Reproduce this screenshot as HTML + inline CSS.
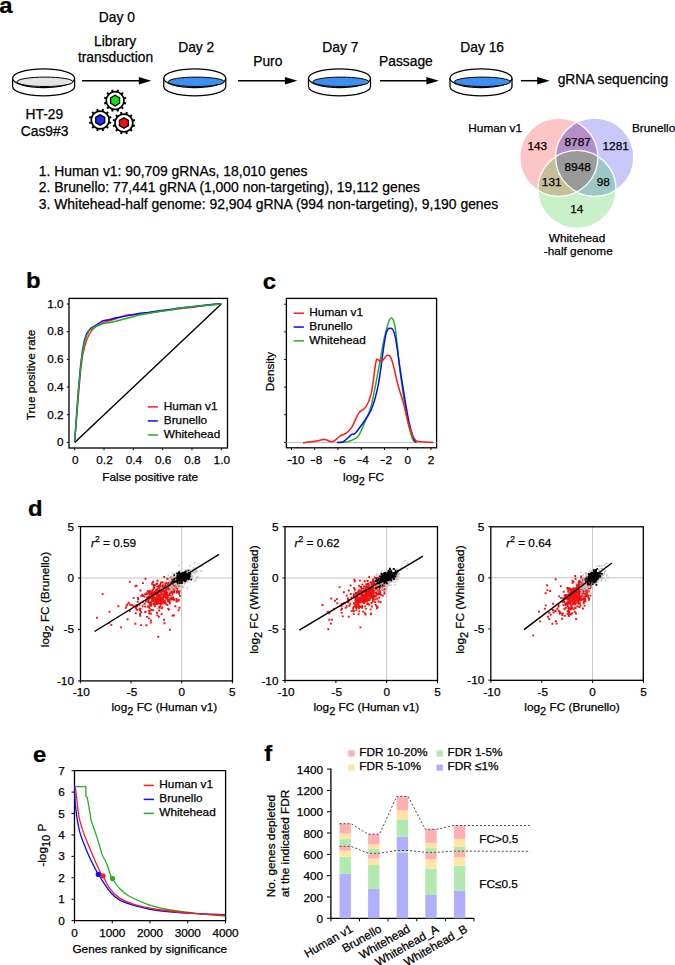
<!DOCTYPE html>
<html><head><meta charset="utf-8"><style>
html,body{margin:0;padding:0;background:#fff;width:675px;height:965px;overflow:hidden}
svg{display:block}
text{font-family:"Liberation Sans",sans-serif;stroke:#000;stroke-width:0.25px}
</style></head><body>
<svg width="675" height="965" viewBox="0 0 675 965">
<text x="0" y="0" font-size="21.3" font-weight="bold" transform="translate(-0.8 12.6) scale(1.12 1)">a</text>
<path d="M12.600000000000001,78.3 L12.600000000000001,86.4 A31,9.4 0 0 0 74.6,86.4 L74.6,78.3" fill="#fff" stroke="#000" stroke-width="1.25"/>
<ellipse cx="43.6" cy="78.3" rx="31" ry="9.4" fill="#fff" stroke="#000" stroke-width="1.25"/>
<ellipse cx="45.0" cy="81.8" rx="28.0" ry="4.7" fill="#e4e4e4" stroke="#000" stroke-width="1.0"/>
<path d="M163.8,78.3 L163.8,86.4 A31,9.4 0 0 0 225.8,86.4 L225.8,78.3" fill="#fff" stroke="#000" stroke-width="1.25"/>
<ellipse cx="194.8" cy="78.3" rx="31" ry="9.4" fill="#fff" stroke="#000" stroke-width="1.25"/>
<ellipse cx="196.20000000000002" cy="81.8" rx="28.0" ry="4.7" fill="#3d8ff2" stroke="#000" stroke-width="1.0"/>
<path d="M308.5,78.3 L308.5,86.4 A31,9.4 0 0 0 370.5,86.4 L370.5,78.3" fill="#fff" stroke="#000" stroke-width="1.25"/>
<ellipse cx="339.5" cy="78.3" rx="31" ry="9.4" fill="#fff" stroke="#000" stroke-width="1.25"/>
<ellipse cx="340.9" cy="81.8" rx="28.0" ry="4.7" fill="#3d8ff2" stroke="#000" stroke-width="1.0"/>
<path d="M450.0,78.3 L450.0,86.4 A31,9.4 0 0 0 512.0,86.4 L512.0,78.3" fill="#fff" stroke="#000" stroke-width="1.25"/>
<ellipse cx="481.0" cy="78.3" rx="31" ry="9.4" fill="#fff" stroke="#000" stroke-width="1.25"/>
<ellipse cx="482.4" cy="81.8" rx="28.0" ry="4.7" fill="#3d8ff2" stroke="#000" stroke-width="1.0"/>
<line x1="82.1" y1="80.7" x2="141.3" y2="80.7" stroke="#000" stroke-width="1.5"/>
<path d="M138.8,77.0 L151.3,80.7 L138.8,84.4 Z" fill="#000"/>
<line x1="238.1" y1="80.7" x2="287.4" y2="80.7" stroke="#000" stroke-width="1.5"/>
<path d="M284.9,77.0 L297.4,80.7 L284.9,84.4 Z" fill="#000"/>
<line x1="380" y1="80.7" x2="428.9" y2="80.7" stroke="#000" stroke-width="1.5"/>
<path d="M426.4,77.0 L438.9,80.7 L426.4,84.4 Z" fill="#000"/>
<line x1="520.9" y1="80.7" x2="539.7" y2="80.7" stroke="#000" stroke-width="1.5"/>
<path d="M537.2,77.0 L549.7,80.7 L537.2,84.4 Z" fill="#000"/>
<text x="116.80" y="21.90" font-size="13.8" text-anchor="middle" fill="#000" >Day 0</text>
<text x="115.20" y="45.60" font-size="13.8" text-anchor="middle" fill="#000" >Library</text>
<text x="115.50" y="61.50" font-size="13.8" text-anchor="middle" fill="#000" >transduction</text>
<text x="196.20" y="52.20" font-size="13.8" text-anchor="middle" fill="#000" >Day 2</text>
<text x="267.80" y="65.50" font-size="13.8" text-anchor="middle" fill="#000" >Puro</text>
<text x="340.30" y="52.20" font-size="13.8" text-anchor="middle" fill="#000" >Day 7</text>
<text x="405.90" y="66.00" font-size="13.8" text-anchor="middle" fill="#000" >Passage</text>
<text x="482.20" y="52.20" font-size="13.8" text-anchor="middle" fill="#000" >Day 16</text>
<text x="612.90" y="84.00" font-size="13.8" text-anchor="middle" fill="#000" >gRNA sequencing</text>
<text x="44.30" y="119.30" font-size="13.8" text-anchor="middle" fill="#000" >HT-29</text>
<text x="44.60" y="135.90" font-size="13.8" text-anchor="middle" fill="#000" >Cas9#3</text>
<text x="38.80" y="175.70" font-size="13.9" text-anchor="start" fill="#000" >1. Human v1: 90,709 gRNAs, 18,010 genes</text>
<text x="38.80" y="192.30" font-size="13.9" text-anchor="start" fill="#000" >2. Brunello: 77,441 gRNA (1,000 non-targeting), 19,112 genes</text>
<text x="38.80" y="208.60" font-size="13.9" text-anchor="start" fill="#000" >3. Whitehead-half genome: 92,904 gRNA (994 non-targeting), 9,190 genes</text>
<rect x="114.10" y="89.30" width="2.0" height="2.8" fill="#000" transform="rotate(15 115.1 100.6)"/>
<rect x="114.10" y="89.30" width="2.0" height="2.8" fill="#000" transform="rotate(45 115.1 100.6)"/>
<rect x="114.10" y="89.30" width="2.0" height="2.8" fill="#000" transform="rotate(75 115.1 100.6)"/>
<rect x="114.10" y="89.30" width="2.0" height="2.8" fill="#000" transform="rotate(105 115.1 100.6)"/>
<rect x="114.10" y="89.30" width="2.0" height="2.8" fill="#000" transform="rotate(135 115.1 100.6)"/>
<rect x="114.10" y="89.30" width="2.0" height="2.8" fill="#000" transform="rotate(165 115.1 100.6)"/>
<rect x="114.10" y="89.30" width="2.0" height="2.8" fill="#000" transform="rotate(195 115.1 100.6)"/>
<rect x="114.10" y="89.30" width="2.0" height="2.8" fill="#000" transform="rotate(225 115.1 100.6)"/>
<rect x="114.10" y="89.30" width="2.0" height="2.8" fill="#000" transform="rotate(255 115.1 100.6)"/>
<rect x="114.10" y="89.30" width="2.0" height="2.8" fill="#000" transform="rotate(285 115.1 100.6)"/>
<rect x="114.10" y="89.30" width="2.0" height="2.8" fill="#000" transform="rotate(315 115.1 100.6)"/>
<rect x="114.10" y="89.30" width="2.0" height="2.8" fill="#000" transform="rotate(345 115.1 100.6)"/>
<circle cx="115.1" cy="100.6" r="8.9" fill="#fff" stroke="#000" stroke-width="1.7"/>
<polygon points="115.10,105.90 110.60,103.25 110.60,97.95 115.10,95.30 119.60,97.95 119.60,103.25" fill="#10e010" stroke="#000" stroke-width="1.3"/>
<rect x="99.20" y="108.70" width="2.0" height="2.8" fill="#000" transform="rotate(15 100.2 120.0)"/>
<rect x="99.20" y="108.70" width="2.0" height="2.8" fill="#000" transform="rotate(45 100.2 120.0)"/>
<rect x="99.20" y="108.70" width="2.0" height="2.8" fill="#000" transform="rotate(75 100.2 120.0)"/>
<rect x="99.20" y="108.70" width="2.0" height="2.8" fill="#000" transform="rotate(105 100.2 120.0)"/>
<rect x="99.20" y="108.70" width="2.0" height="2.8" fill="#000" transform="rotate(135 100.2 120.0)"/>
<rect x="99.20" y="108.70" width="2.0" height="2.8" fill="#000" transform="rotate(165 100.2 120.0)"/>
<rect x="99.20" y="108.70" width="2.0" height="2.8" fill="#000" transform="rotate(195 100.2 120.0)"/>
<rect x="99.20" y="108.70" width="2.0" height="2.8" fill="#000" transform="rotate(225 100.2 120.0)"/>
<rect x="99.20" y="108.70" width="2.0" height="2.8" fill="#000" transform="rotate(255 100.2 120.0)"/>
<rect x="99.20" y="108.70" width="2.0" height="2.8" fill="#000" transform="rotate(285 100.2 120.0)"/>
<rect x="99.20" y="108.70" width="2.0" height="2.8" fill="#000" transform="rotate(315 100.2 120.0)"/>
<rect x="99.20" y="108.70" width="2.0" height="2.8" fill="#000" transform="rotate(345 100.2 120.0)"/>
<circle cx="100.2" cy="120.0" r="8.9" fill="#fff" stroke="#000" stroke-width="1.7"/>
<polygon points="100.20,125.30 95.70,122.65 95.70,117.35 100.20,114.70 104.70,117.35 104.70,122.65" fill="#2030f0" stroke="#000" stroke-width="1.3"/>
<rect x="122.90" y="111.70" width="2.0" height="2.8" fill="#000" transform="rotate(15 123.9 123.0)"/>
<rect x="122.90" y="111.70" width="2.0" height="2.8" fill="#000" transform="rotate(45 123.9 123.0)"/>
<rect x="122.90" y="111.70" width="2.0" height="2.8" fill="#000" transform="rotate(75 123.9 123.0)"/>
<rect x="122.90" y="111.70" width="2.0" height="2.8" fill="#000" transform="rotate(105 123.9 123.0)"/>
<rect x="122.90" y="111.70" width="2.0" height="2.8" fill="#000" transform="rotate(135 123.9 123.0)"/>
<rect x="122.90" y="111.70" width="2.0" height="2.8" fill="#000" transform="rotate(165 123.9 123.0)"/>
<rect x="122.90" y="111.70" width="2.0" height="2.8" fill="#000" transform="rotate(195 123.9 123.0)"/>
<rect x="122.90" y="111.70" width="2.0" height="2.8" fill="#000" transform="rotate(225 123.9 123.0)"/>
<rect x="122.90" y="111.70" width="2.0" height="2.8" fill="#000" transform="rotate(255 123.9 123.0)"/>
<rect x="122.90" y="111.70" width="2.0" height="2.8" fill="#000" transform="rotate(285 123.9 123.0)"/>
<rect x="122.90" y="111.70" width="2.0" height="2.8" fill="#000" transform="rotate(315 123.9 123.0)"/>
<rect x="122.90" y="111.70" width="2.0" height="2.8" fill="#000" transform="rotate(345 123.9 123.0)"/>
<circle cx="123.9" cy="123.0" r="8.9" fill="#fff" stroke="#000" stroke-width="1.7"/>
<polygon points="123.90,128.30 119.40,125.65 119.40,120.35 123.90,117.70 128.40,120.35 128.40,125.65" fill="#f01010" stroke="#000" stroke-width="1.3"/>
<defs>
<clipPath id="cA"><circle cx="558.8" cy="157.2" r="39.1"/></clipPath>
<clipPath id="cB"><circle cx="594.7" cy="157.2" r="39.1"/></clipPath>
</defs>
<circle cx="558.8" cy="157.2" r="39.1" fill="#fcc6c6"/>
<circle cx="594.7" cy="157.2" r="39.1" fill="#c9c9f9"/>
<circle cx="577" cy="189.4" r="39.1" fill="#c9f1c9"/>
<circle cx="594.7" cy="157.2" r="39.1" fill="#b48dca" clip-path="url(#cA)"/>
<circle cx="577" cy="189.4" r="39.1" fill="#c6bf98" clip-path="url(#cA)"/>
<circle cx="577" cy="189.4" r="39.1" fill="#9cc7c5" clip-path="url(#cB)"/>
<g clip-path="url(#cA)">
<circle cx="577" cy="189.4" r="39.1" fill="#9a9a9a" clip-path="url(#cB)"/>
</g>
<circle cx="558.8" cy="157.2" r="39.1" fill="none" stroke="#fff" stroke-width="1.3"/>
<circle cx="594.7" cy="157.2" r="39.1" fill="none" stroke="#fff" stroke-width="1.3"/>
<circle cx="577" cy="189.4" r="39.1" fill="none" stroke="#fff" stroke-width="1.3"/>
<text x="495.20" y="131.60" font-size="11.8" text-anchor="middle" fill="#000" >Human v1</text>
<text x="632.00" y="131.60" font-size="11.8" text-anchor="start" fill="#000" >Brunello</text>
<text x="577.00" y="241.70" font-size="11.8" text-anchor="middle" fill="#000" >Whitehead</text>
<text x="578.30" y="255.00" font-size="11.8" text-anchor="middle" fill="#000" >-half genome</text>
<text x="537.30" y="150.00" font-size="11.8" text-anchor="middle" fill="#000" >143</text>
<text x="577.70" y="145.70" font-size="11.8" text-anchor="middle" fill="#000" >8787</text>
<text x="615.70" y="150.00" font-size="11.8" text-anchor="middle" fill="#000" >1281</text>
<text x="577.70" y="170.70" font-size="11.8" text-anchor="middle" fill="#000" >8948</text>
<text x="551.70" y="186.00" font-size="11.8" text-anchor="middle" fill="#000" >131</text>
<text x="603.30" y="186.00" font-size="11.8" text-anchor="middle" fill="#000" >98</text>
<text x="576.70" y="212.70" font-size="11.8" text-anchor="middle" fill="#000" >14</text>
<text x="0" y="0" font-size="21.3" font-weight="bold" transform="translate(26.0 287.9) scale(1.12 1)">b</text>
<rect x="69.0" y="298.4" width="158.5" height="149.60000000000002" fill="none" stroke="#000" stroke-width="1.3"/>
<line x1="66.8" y1="442.40" x2="69.0" y2="442.40" stroke="#000" stroke-width="1"/>
<text x="63.60" y="446.20" font-size="11.8" text-anchor="end" fill="#000" >0</text>
<line x1="74.70" y1="448.0" x2="74.70" y2="450.2" stroke="#000" stroke-width="1"/>
<text x="75.20" y="463.60" font-size="11.8" text-anchor="middle" fill="#000" >0</text>
<line x1="66.8" y1="414.72" x2="69.0" y2="414.72" stroke="#000" stroke-width="1"/>
<text x="63.60" y="418.52" font-size="11.8" text-anchor="end" fill="#000" >0.2</text>
<line x1="104.02" y1="448.0" x2="104.02" y2="450.2" stroke="#000" stroke-width="1"/>
<text x="104.52" y="463.60" font-size="11.8" text-anchor="middle" fill="#000" >0.2</text>
<line x1="66.8" y1="387.04" x2="69.0" y2="387.04" stroke="#000" stroke-width="1"/>
<text x="63.60" y="390.84" font-size="11.8" text-anchor="end" fill="#000" >0.4</text>
<line x1="133.34" y1="448.0" x2="133.34" y2="450.2" stroke="#000" stroke-width="1"/>
<text x="133.84" y="463.60" font-size="11.8" text-anchor="middle" fill="#000" >0.4</text>
<line x1="66.8" y1="359.36" x2="69.0" y2="359.36" stroke="#000" stroke-width="1"/>
<text x="63.60" y="363.16" font-size="11.8" text-anchor="end" fill="#000" >0.6</text>
<line x1="162.66" y1="448.0" x2="162.66" y2="450.2" stroke="#000" stroke-width="1"/>
<text x="163.16" y="463.60" font-size="11.8" text-anchor="middle" fill="#000" >0.6</text>
<line x1="66.8" y1="331.68" x2="69.0" y2="331.68" stroke="#000" stroke-width="1"/>
<text x="63.60" y="335.48" font-size="11.8" text-anchor="end" fill="#000" >0.8</text>
<line x1="191.98" y1="448.0" x2="191.98" y2="450.2" stroke="#000" stroke-width="1"/>
<text x="192.48" y="463.60" font-size="11.8" text-anchor="middle" fill="#000" >0.8</text>
<line x1="66.8" y1="304.00" x2="69.0" y2="304.00" stroke="#000" stroke-width="1"/>
<text x="63.60" y="307.80" font-size="11.8" text-anchor="end" fill="#000" >1.0</text>
<line x1="221.30" y1="448.0" x2="221.30" y2="450.2" stroke="#000" stroke-width="1"/>
<text x="221.80" y="463.60" font-size="11.8" text-anchor="middle" fill="#000" >1.0</text>
<text x="150.20" y="481.00" font-size="11.8" text-anchor="middle" fill="#000" >False positive rate</text>
<text x="0" y="0" font-size="11.8" text-anchor="middle" transform="translate(35.0 375) rotate(-90)">True positive rate</text>
<line x1="74.7" y1="442.4" x2="221.3" y2="304.0" stroke="#000" stroke-width="1.4"/>
<polyline points="74.7,441.5 76.5,420.0 78.5,395.0 80.5,372.0 82.5,356.0 84.5,347.0 87.0,339.0 89.5,334.0 92.0,330.0 96.0,326.5 103.0,322.6 110.0,320.5 115.0,319.0 127.0,315.0 134.0,314.5 140.0,314.2 148.0,313.0 159.0,311.5 170.0,310.0 179.0,308.8 193.0,307.2 200.0,306.3 207.0,305.3 214.0,304.5 221.3,303.8" fill="none" stroke="#ff1a1a" stroke-width="1.4" stroke-linejoin="round"/>
<polyline points="74.7,441.5 76.5,415.0 78.5,388.0 80.5,366.0 82.5,350.0 84.5,340.0 86.5,334.0 88.5,331.0 91.0,328.0 96.0,325.0 103.0,320.7 110.0,319.5 115.0,318.0 127.0,315.9 134.0,314.5 140.0,313.2 148.0,312.5 159.0,310.6 170.0,309.5 179.0,308.0 193.0,306.8 200.0,305.8 207.0,305.0 214.0,304.3 221.3,303.8" fill="none" stroke="#0a0aff" stroke-width="1.4" stroke-linejoin="round"/>
<polyline points="74.7,441.5 76.5,417.0 78.5,390.0 80.5,368.0 82.5,352.0 84.5,342.0 86.5,336.0 89.0,331.0 92.0,328.5 96.0,326.5 103.0,323.6 110.0,322.5 115.0,321.5 127.0,318.3 134.0,316.5 140.0,314.8 148.0,313.5 159.0,311.5 170.0,310.0 179.0,308.3 193.0,306.5 200.0,306.0 207.0,305.3 214.0,304.8 221.3,303.8" fill="none" stroke="#22b022" stroke-width="1.4" stroke-linejoin="round"/>
<line x1="147.8" y1="406.90" x2="157.9" y2="406.90" stroke="#ff1a1a" stroke-width="1.5"/>
<text x="163.80" y="410.10" font-size="11.8" text-anchor="start" fill="#000" >Human v1</text>
<line x1="147.8" y1="420.95" x2="157.9" y2="420.95" stroke="#0a0aff" stroke-width="1.5"/>
<text x="163.80" y="424.05" font-size="11.8" text-anchor="start" fill="#000" >Brunello</text>
<line x1="147.8" y1="435.00" x2="157.9" y2="435.00" stroke="#22b022" stroke-width="1.5"/>
<text x="163.80" y="438.00" font-size="11.8" text-anchor="start" fill="#000" >Whitehead</text>
<text x="0" y="0" font-size="21.3" font-weight="bold" transform="translate(262.8 288.7) scale(1.12 1)">c</text>
<rect x="286.4" y="298.4" width="150.20000000000005" height="149.40000000000003" fill="none" stroke="#000" stroke-width="1.3"/>
<line x1="284.2" y1="304.20" x2="286.4" y2="304.20" stroke="#000" stroke-width="1"/>
<line x1="284.2" y1="331.84" x2="286.4" y2="331.84" stroke="#000" stroke-width="1"/>
<line x1="284.2" y1="359.48" x2="286.4" y2="359.48" stroke="#000" stroke-width="1"/>
<line x1="284.2" y1="387.12" x2="286.4" y2="387.12" stroke="#000" stroke-width="1"/>
<line x1="284.2" y1="414.76" x2="286.4" y2="414.76" stroke="#000" stroke-width="1"/>
<line x1="284.2" y1="442.40" x2="286.4" y2="442.40" stroke="#000" stroke-width="1"/>
<line x1="286.4" y1="442.5" x2="436.6" y2="442.5" stroke="#c0c0c0" stroke-width="1"/>
<line x1="291.50" y1="447.8" x2="291.50" y2="450.0" stroke="#000" stroke-width="1"/>
<rect x="287.50" y="459.9" width="4.4" height="1.15" fill="#000"/>
<text x="291.40" y="464.40" font-size="11.8" text-anchor="start" fill="#000" >10</text>
<line x1="314.74" y1="447.8" x2="314.74" y2="450.0" stroke="#000" stroke-width="1"/>
<rect x="310.74" y="459.9" width="4.4" height="1.15" fill="#000"/>
<text x="315.74" y="464.40" font-size="11.8" text-anchor="start" fill="#000" >8</text>
<line x1="337.98" y1="447.8" x2="337.98" y2="450.0" stroke="#000" stroke-width="1"/>
<rect x="333.98" y="459.9" width="4.4" height="1.15" fill="#000"/>
<text x="338.98" y="464.40" font-size="11.8" text-anchor="start" fill="#000" >6</text>
<line x1="361.22" y1="447.8" x2="361.22" y2="450.0" stroke="#000" stroke-width="1"/>
<rect x="357.22" y="459.9" width="4.4" height="1.15" fill="#000"/>
<text x="362.22" y="464.40" font-size="11.8" text-anchor="start" fill="#000" >4</text>
<line x1="384.46" y1="447.8" x2="384.46" y2="450.0" stroke="#000" stroke-width="1"/>
<rect x="380.46" y="459.9" width="4.4" height="1.15" fill="#000"/>
<text x="385.46" y="464.40" font-size="11.8" text-anchor="start" fill="#000" >2</text>
<line x1="407.70" y1="447.8" x2="407.70" y2="450.0" stroke="#000" stroke-width="1"/>
<text x="407.70" y="464.40" font-size="11.8" text-anchor="middle" fill="#000" >0</text>
<line x1="430.94" y1="447.8" x2="430.94" y2="450.0" stroke="#000" stroke-width="1"/>
<text x="430.94" y="464.40" font-size="11.8" text-anchor="middle" fill="#000" >2</text>
<text x="363.50" y="480.90" font-size="11.8" text-anchor="middle" fill="#000" >log<tspan font-size="11" dy="4.2">2</tspan><tspan dy="-4.2"> FC</tspan></text>
<text x="0" y="0" font-size="11.8" text-anchor="middle" transform="translate(273.8 371.5) rotate(-90)">Density</text>
<path d="M337.40,442.60 C339.18,442.43 344.68,442.60 348.10,441.60 C351.52,440.60 355.23,439.57 357.90,436.60 C360.57,433.63 361.88,428.90 364.10,423.80 C366.32,418.70 368.83,414.90 371.20,406.00 C373.57,397.10 376.07,381.95 378.30,370.40 C380.53,358.85 382.58,345.35 384.60,336.70 C386.62,328.05 388.63,319.98 390.40,318.50 C392.17,317.02 393.65,319.43 395.20,327.80 C396.75,336.17 397.77,353.88 399.70,368.70 C401.63,383.52 404.73,405.15 406.80,416.70 C408.87,428.25 410.62,433.72 412.10,438.00 C413.58,442.28 415.10,441.67 415.70,442.40" fill="none" stroke="#22b022" stroke-width="1.5"/>
<path d="M337.00,442.60 C338.12,442.42 341.25,442.87 343.70,441.50 C346.15,440.13 349.63,435.93 351.70,434.40 C353.77,432.87 352.85,436.43 356.10,432.30 C359.35,428.17 367.50,417.53 371.20,409.60 C374.90,401.67 375.93,396.85 378.30,384.70 C380.67,372.55 383.38,346.10 385.40,336.70 C387.42,327.30 388.77,328.30 390.40,328.30 C392.03,328.30 393.37,328.48 395.20,336.70 C397.03,344.92 399.17,363.68 401.40,377.60 C403.63,391.52 406.52,409.90 408.60,420.20 C410.68,430.50 412.57,435.70 413.90,439.40 C415.23,443.10 416.15,441.90 416.60,442.40" fill="none" stroke="#0a0aff" stroke-width="1.5"/>
<path d="M303.00,442.70 C305.00,442.47 311.45,441.82 315.00,441.30 C318.55,440.78 321.52,439.53 324.30,439.60 C327.08,439.67 329.58,441.85 331.70,441.70 C333.82,441.55 335.45,439.77 337.00,438.70 C338.55,437.63 339.60,436.15 341.00,435.30 C342.40,434.45 343.62,434.93 345.40,433.60 C347.18,432.27 349.47,430.72 351.70,427.30 C353.93,423.88 356.43,416.50 358.80,413.10 C361.17,409.70 363.83,410.15 365.90,406.90 C367.97,403.65 369.57,400.87 371.20,393.60 C372.83,386.33 374.67,369.00 375.70,363.30 C376.73,357.60 376.43,359.68 377.40,359.40 C378.37,359.12 379.87,362.28 381.50,361.60 C383.13,360.92 385.50,355.60 387.20,355.30 C388.90,355.00 389.92,354.90 391.70,359.80 C393.48,364.70 395.98,377.60 397.90,384.70 C399.82,391.80 401.42,395.88 403.20,402.40 C404.98,408.92 406.82,417.87 408.60,423.80 C410.38,429.73 412.13,435.03 413.90,438.00 C415.67,440.97 415.95,440.87 419.20,441.60 C422.45,442.33 431.03,442.27 433.40,442.40" fill="none" stroke="#ff1a1a" stroke-width="1.5"/>
<line x1="293.6" y1="313.20" x2="303.9" y2="313.20" stroke="#ff1a1a" stroke-width="1.5"/>
<text x="309.30" y="316.00" font-size="11.8" text-anchor="start" fill="#000" >Human v1</text>
<line x1="293.6" y1="327.05" x2="303.9" y2="327.05" stroke="#0a0aff" stroke-width="1.5"/>
<text x="309.30" y="329.90" font-size="11.8" text-anchor="start" fill="#000" >Brunello</text>
<line x1="293.6" y1="340.90" x2="303.9" y2="340.90" stroke="#22b022" stroke-width="1.5"/>
<text x="309.30" y="343.80" font-size="11.8" text-anchor="start" fill="#000" >Whitehead</text>
<text x="0" y="0" font-size="21.3" font-weight="bold" transform="translate(28.0 516.2) scale(1.12 1)">d</text>
<line x1="80.5" y1="578.0" x2="232.5" y2="578.0" stroke="#c4c4c4" stroke-width="1"/>
<line x1="181.7" y1="526.6" x2="181.7" y2="680.9" stroke="#c4c4c4" stroke-width="1"/>
<path d="M161.4 592.0h0M181.7 582.5h0M160.5 594.7h0M161.5 599.7h0M179.0 579.7h0M171.7 588.1h0M196.0 571.7h0M165.4 596.3h0M173.5 585.0h0M169.4 588.6h0M182.6 578.5h0M156.3 594.0h0M159.6 595.8h0M159.1 595.3h0M165.5 590.0h0M180.3 587.2h0M170.0 584.9h0M173.5 590.2h0M177.7 586.5h0M178.8 582.0h0M181.3 583.1h0M184.1 575.5h0M173.9 589.0h0M187.6 577.8h0M177.6 580.5h0M174.2 587.9h0M163.3 594.3h0M181.5 575.3h0M179.7 578.2h0M188.8 576.8h0M166.3 581.4h0M180.5 586.1h0M194.8 563.0h0M173.7 589.5h0M171.6 585.2h0M173.1 579.6h0M165.6 587.3h0M156.2 601.5h0M174.7 582.3h0M172.6 583.2h0M171.1 598.2h0M181.7 584.3h0M168.8 587.7h0M173.6 578.3h0M171.8 578.1h0M166.3 592.7h0M179.2 575.2h0M178.5 580.8h0M156.0 600.8h0M167.0 592.5h0M177.9 584.2h0M169.5 587.7h0M176.5 579.6h0M168.2 590.3h0M160.1 587.2h0M185.8 578.1h0M168.2 594.9h0M174.1 584.2h0M192.5 571.6h0M165.5 602.3h0M185.4 576.7h0M157.9 595.3h0M157.9 580.0h0M182.8 576.7h0M171.0 597.2h0M178.0 592.5h0M164.3 586.2h0M158.6 591.6h0M180.4 585.5h0M166.2 593.7h0M161.7 596.7h0M184.0 575.3h0M171.3 591.6h0M171.5 593.1h0M156.4 594.0h0M185.7 573.5h0M184.7 576.8h0M166.0 590.3h0M169.2 593.7h0M157.1 603.5h0M168.3 582.5h0M174.2 582.4h0M154.6 594.9h0M166.3 584.4h0M179.5 591.1h0M179.1 584.9h0M165.7 592.9h0M179.6 577.4h0M181.8 587.7h0M167.2 600.9h0M171.6 584.1h0M165.6 589.8h0M165.1 595.1h0M165.6 582.8h0M174.6 584.3h0M174.4 585.9h0M169.5 594.1h0M166.7 582.6h0M177.5 582.6h0M175.8 587.0h0M174.4 583.9h0M165.8 594.5h0M163.5 597.3h0M180.7 591.7h0M166.9 589.6h0M182.9 578.9h0M171.4 582.8h0M169.0 594.0h0M161.1 599.2h0M159.9 589.7h0M175.8 585.1h0M179.4 577.9h0M158.5 603.0h0M164.1 587.8h0M184.4 583.9h0M182.1 581.5h0M169.0 591.2h0M169.6 596.6h0M163.4 598.1h0M197.5 570.9h0M156.9 598.7h0M164.0 582.8h0M177.8 586.1h0M181.1 578.0h0M157.8 598.7h0M170.4 587.6h0M173.8 587.0h0M164.4 584.7h0M175.9 582.0h0M158.0 596.8h0M180.1 587.2h0M182.6 581.3h0M174.6 579.3h0M168.9 581.5h0M165.4 595.4h0M179.1 586.8h0M169.2 584.3h0M177.2 574.4h0M183.5 580.0h0M167.1 591.3h0M162.1 594.6h0M170.9 588.1h0M159.3 590.4h0M162.8 594.9h0M163.4 593.6h0M192.5 575.6h0M179.4 578.1h0M180.4 590.0h0M164.7 591.0h0M177.1 577.2h0M176.9 584.4h0M174.8 581.6h0M169.5 592.1h0M164.8 586.4h0M184.3 573.7h0M180.4 577.1h0M163.0 593.7h0M165.9 587.4h0M167.3 590.3h0M176.2 577.5h0M165.4 595.5h0M176.7 586.1h0M171.6 595.3h0M164.4 582.2h0M179.1 565.6h0M173.6 578.1h0M172.3 584.3h0M173.8 587.8h0M161.2 589.9h0M164.3 601.1h0M177.0 583.7h0M157.2 596.9h0M158.7 595.7h0M173.9 583.7h0M162.2 595.0h0M167.9 590.5h0M187.5 588.0h0M176.2 584.7h0M157.5 594.6h0M167.8 584.8h0M163.0 593.2h0M171.4 587.5h0M167.3 598.3h0M172.0 591.4h0M174.4 582.4h0M185.4 582.7h0M167.5 598.5h0M166.2 594.0h0M163.8 595.4h0M189.0 576.0h0M172.0 594.6h0M176.3 588.1h0M167.3 597.2h0M173.5 590.3h0M167.0 585.6h0M181.1 580.2h0M164.4 596.7h0M175.0 573.5h0M168.4 592.7h0M166.2 595.6h0M163.7 593.2h0M185.7 577.4h0M167.9 596.9h0M174.5 585.0h0M161.4 598.8h0M178.3 581.4h0M169.6 586.7h0M162.3 594.9h0M184.1 579.6h0M173.9 587.0h0M160.0 599.2h0M178.1 578.1h0M177.8 578.0h0M181.6 581.8h0M160.4 595.5h0M167.6 586.8h0M166.0 595.6h0M169.6 581.1h0M172.7 584.8h0M181.0 574.0h0M157.6 590.1h0M172.5 587.7h0M194.5 572.2h0M163.2 590.3h0M179.3 582.3h0M151.3 602.2h0M170.8 592.5h0M189.2 576.1h0M169.0 590.0h0M165.4 594.7h0M173.4 584.2h0M168.0 589.8h0M159.9 592.4h0M165.7 589.9h0M164.3 594.2h0M174.5 590.5h0M195.1 571.2h0M187.1 570.0h0M175.3 590.7h0M168.0 586.5h0M167.9 594.9h0M161.7 597.1h0M172.7 573.2h0M188.7 580.1h0M171.3 582.3h0M169.6 589.8h0M169.2 589.0h0M184.3 574.7h0M160.3 596.6h0M165.3 587.4h0M174.6 580.7h0M172.0 595.4h0M177.2 589.1h0M173.3 588.9h0M166.3 588.8h0M175.8 588.2h0M157.0 608.2h0M167.3 584.6h0M172.1 597.0h0M164.7 589.6h0M175.9 583.1h0M162.9 594.9h0M173.2 587.7h0M175.7 577.5h0M170.4 594.8h0M171.5 584.4h0M163.4 586.6h0M169.5 586.6h0M169.6 594.1h0M181.0 583.1h0M175.1 588.2h0M168.8 584.5h0M190.3 578.1h0M172.7 581.8h0M166.8 586.8h0M165.4 588.3h0M176.6 577.9h0M178.6 587.2h0M179.4 574.6h0M183.5 578.1h0M161.2 595.6h0M173.7 587.1h0M157.2 599.0h0M171.0 597.2h0M183.7 575.4h0M168.5 591.8h0M175.4 576.5h0M157.2 597.7h0M166.1 588.1h0M185.9 578.6h0M161.3 593.7h0M170.0 595.1h0M180.7 583.2h0M182.6 586.1h0M182.2 588.1h0M158.4 596.9h0M175.7 588.7h0M168.1 588.0h0M171.0 601.5h0M168.7 586.9h0M166.3 578.7h0M179.9 579.8h0M173.5 588.5h0M181.9 578.0h0M155.3 603.0h0M176.8 582.8h0M175.1 581.5h0M167.2 591.7h0M175.5 580.8h0M168.2 583.8h0M176.8 588.2h0M179.7 583.6h0M150.7 604.4h0M166.2 590.2h0M193.7 568.5h0M175.4 588.6h0M161.8 594.5h0M168.3 575.2h0M168.9 591.6h0M161.3 587.9h0M169.7 594.3h0M169.5 585.1h0M180.1 585.2h0M153.8 610.0h0M171.4 581.3h0M181.7 573.6h0M182.2 586.8h0M178.9 580.2h0M162.4 592.5h0M184.2 580.0h0M174.9 589.3h0M176.0 584.9h0M161.9 595.0h0M182.0 572.5h0M179.5 579.7h0M158.4 594.3h0M163.7 586.8h0M179.8 578.5h0M149.5 599.0h0M181.4 579.9h0M170.9 590.7h0M163.3 594.5h0M200.7 566.2h0M174.5 587.9h0M166.9 592.6h0M164.5 587.6h0M170.1 583.9h0M162.0 589.1h0M172.3 583.3h0M171.6 591.0h0M171.2 591.2h0M174.4 586.8h0M166.3 597.0h0M176.5 579.3h0M178.1 580.7h0M175.2 582.5h0M181.0 582.8h0M159.4 595.6h0M166.4 587.7h0M171.2 586.7h0M161.1 589.8h0M188.6 576.3h0M165.9 596.1h0M165.3 585.5h0M179.6 578.7h0M156.5 597.6h0M178.3 588.0h0M181.1 573.9h0M166.1 586.2h0M181.6 574.4h0M168.8 597.3h0M179.7 570.9h0M168.4 591.3h0M178.5 580.5h0M160.1 598.0h0M162.6 583.6h0M166.0 586.7h0M190.1 565.6h0M161.3 595.5h0M165.9 592.1h0M177.7 588.5h0M184.8 571.9h0M167.9 579.8h0M173.3 579.7h0M175.4 586.9h0M169.1 589.1h0M178.2 581.8h0M194.1 572.6h0M168.3 592.4h0M165.5 597.7h0M163.6 588.1h0M175.8 579.1h0M178.2 578.9h0M167.5 590.9h0M165.5 591.5h0M165.1 593.0h0M170.2 590.1h0M184.5 579.7h0M163.4 591.6h0M162.6 597.9h0M173.3 593.4h0M143.2 604.8h0M182.0 587.6h0M164.4 589.1h0M154.5 602.5h0M161.6 594.6h0M154.6 594.3h0M169.6 598.1h0M171.2 593.4h0M169.7 589.2h0M179.6 577.9h0M163.4 592.5h0M185.9 574.9h0M165.9 591.3h0M169.4 584.0h0M172.9 584.3h0M192.7 579.0h0M163.3 600.5h0M173.8 578.2h0M184.3 573.2h0M171.7 583.4h0M190.8 573.0h0M187.6 574.3h0M182.9 578.0h0M182.9 575.7h0M181.8 577.4h0M190.8 578.8h0M178.5 577.6h0M181.2 578.8h0M194.4 573.7h0M180.4 575.7h0M196.7 577.1h0M179.0 578.7h0M179.2 573.2h0M185.6 578.3h0M185.4 579.4h0M179.3 578.7h0M196.0 580.3h0M185.1 573.7h0M186.8 571.7h0M185.2 576.9h0M182.0 580.5h0M191.8 578.6h0M182.0 579.6h0M178.3 585.2h0M180.6 578.2h0M183.5 575.5h0M181.8 580.0h0M184.4 575.7h0M177.7 583.5h0M177.0 576.8h0M188.3 578.8h0M183.3 575.6h0M190.1 577.7h0M181.4 574.6h0M196.2 570.2h0M176.4 578.6h0M181.0 578.6h0M179.0 580.3h0M182.7 573.2h0M186.6 575.8h0M182.9 580.0h0M181.4 575.0h0M187.3 571.5h0M184.2 577.7h0M173.7 579.4h0M173.1 576.6h0M179.2 579.0h0M175.2 581.4h0M177.5 576.4h0M184.1 580.8h0M172.0 581.2h0M180.0 581.7h0M186.0 577.6h0M183.3 579.4h0M179.5 580.1h0M173.8 578.8h0M185.0 582.0h0M183.3 574.8h0M184.0 574.2h0M181.2 578.4h0M175.5 582.4h0M172.6 583.2h0M184.1 576.2h0M189.2 575.9h0M177.2 578.4h0M181.9 573.5h0M193.6 572.4h0M176.4 581.2h0M183.8 579.6h0M185.6 575.4h0M187.4 576.1h0M177.8 581.6h0M182.0 574.6h0M191.5 573.0h0M184.7 575.6h0M187.3 573.3h0M187.5 580.8h0M188.0 575.5h0M180.2 577.3h0M184.3 577.7h0M173.3 580.3h0M185.8 577.3h0M173.9 579.2h0M186.7 576.4h0M185.1 578.3h0M179.0 577.6h0M180.7 578.1h0M200.9 571.1h0M183.5 582.1h0M183.3 575.8h0M178.8 579.7h0M170.1 580.0h0M179.4 577.1h0M190.3 576.3h0M188.2 575.8h0M181.6 579.1h0M178.0 575.9h0M187.6 579.3h0M187.4 578.7h0M174.3 577.1h0M175.6 576.8h0M183.8 575.3h0M185.6 574.1h0M184.7 575.9h0M184.1 574.7h0M180.5 575.9h0M191.1 575.8h0M185.2 578.7h0M181.1 577.7h0M180.8 580.9h0M182.5 577.5h0M184.5 575.6h0M172.8 577.0h0M181.8 580.3h0M180.6 577.4h0M187.6 577.6h0M183.6 582.0h0M183.7 578.0h0M180.3 576.3h0M192.7 572.5h0M178.4 575.1h0M180.9 578.6h0M179.5 577.7h0M185.8 576.8h0M181.5 578.7h0M180.5 576.0h0M179.8 579.2h0M181.5 580.3h0M181.4 582.3h0M185.0 575.9h0M181.0 574.3h0M178.2 577.8h0M185.4 578.7h0M181.4 576.0h0M183.1 577.2h0M190.5 575.3h0M173.4 582.5h0M187.3 577.1h0M176.7 584.9h0M184.5 573.5h0M175.8 585.7h0M185.5 578.7h0M181.1 579.3h0M177.7 578.2h0M187.8 575.6h0M179.6 576.1h0M182.1 576.6h0M177.5 577.7h0M186.8 573.4h0M182.9 576.8h0M179.5 576.5h0M187.0 573.9h0M180.6 581.8h0M182.3 578.7h0M178.6 577.5h0M187.9 575.5h0M188.9 575.2h0M177.3 581.0h0M180.8 576.7h0M187.8 576.2h0M188.3 578.6h0M182.1 574.2h0M185.2 574.6h0M172.3 585.3h0M178.0 576.7h0M191.7 577.1h0M177.3 582.2h0M177.8 577.9h0M181.0 573.5h0M186.7 578.7h0M184.0 578.0h0M187.1 574.4h0M180.8 576.2h0M185.9 577.3h0M184.1 575.8h0M181.0 580.2h0M189.7 576.0h0M179.5 577.7h0M174.6 580.1h0M175.3 581.2h0M173.0 582.6h0M187.6 577.1h0M176.1 575.3h0M179.3 575.0h0M179.9 582.6h0M192.8 576.3h0M186.9 573.7h0M175.5 579.8h0M179.6 577.3h0M182.7 581.3h0M183.1 575.9h0M181.1 576.9h0M179.8 578.9h0M184.7 577.1h0M189.7 573.6h0M187.4 574.8h0M183.6 580.8h0M188.6 571.8h0M184.0 578.3h0M182.6 574.9h0M184.3 580.1h0M181.8 580.2h0M181.7 580.6h0M178.0 575.4h0M188.5 580.6h0M177.4 580.6h0M180.6 582.2h0M187.6 580.8h0M186.5 575.1h0M180.8 580.2h0M183.1 577.5h0M171.3 584.4h0M185.6 577.5h0M180.5 581.2h0M178.9 581.0h0M198.0 577.0h0M191.1 574.4h0M183.9 577.1h0M180.7 574.3h0M185.5 577.3h0M182.1 577.6h0M176.5 580.5h0M179.4 577.3h0M186.0 581.9h0M181.5 575.7h0M175.7 583.0h0M188.2 576.8h0M180.3 581.8h0M183.7 579.2h0M183.9 576.5h0M186.6 577.8h0M179.9 578.7h0M182.2 577.7h0M179.9 579.4h0M179.6 580.4h0M183.6 574.7h0M179.8 577.2h0M184.6 577.2h0M186.5 578.4h0M185.8 576.3h0M163.7 582.3h0M186.0 572.0h0M177.0 579.3h0M184.7 580.0h0M189.3 575.0h0M178.4 582.3h0M180.5 572.4h0M194.5 581.2h0M172.8 579.0h0M182.2 579.8h0M186.1 576.8h0M184.3 576.8h0M176.8 576.2h0M180.2 575.7h0M186.5 576.8h0M183.5 577.9h0M172.7 581.6h0" stroke="#bebebe" stroke-width="1.5" stroke-linecap="square" fill="none"/>
<path d="M165.8 603.8h0M146.7 594.2h0M169.6 601.7h0M166.1 593.2h0M171.2 592.7h0M159.3 600.9h0M163.3 594.9h0M155.0 600.1h0M154.0 594.0h0M151.2 610.0h0M151.9 591.9h0M156.4 592.8h0M168.8 595.1h0M169.0 588.1h0M161.1 599.9h0M160.9 603.8h0M158.7 600.1h0M165.9 590.6h0M155.1 591.9h0M173.4 589.2h0M154.1 594.8h0M137.1 609.8h0M167.3 578.8h0M154.1 587.9h0M137.9 598.0h0M163.4 587.2h0M159.7 599.9h0M159.2 585.7h0M169.9 593.2h0M165.3 587.3h0M167.2 592.7h0M154.9 602.9h0M157.1 600.6h0M145.7 611.6h0M170.3 598.6h0M148.3 601.1h0M176.0 579.9h0M157.3 603.8h0M156.1 603.5h0M155.9 594.1h0M150.8 605.0h0M158.9 596.3h0M153.8 603.8h0M150.1 605.2h0M166.7 594.3h0M130.2 604.7h0M160.8 601.2h0M158.9 616.8h0M144.8 594.4h0M154.0 598.0h0M169.3 599.8h0M179.0 592.0h0M165.0 601.2h0M165.1 593.4h0M172.4 598.0h0M161.4 582.5h0M149.4 597.9h0M165.9 596.4h0M158.7 586.5h0M173.0 585.9h0M164.2 601.5h0M162.4 582.2h0M172.1 599.5h0M140.5 608.9h0M163.1 598.0h0M158.3 594.0h0M170.5 589.5h0M174.1 599.1h0M166.2 589.9h0M146.4 593.1h0M145.2 612.1h0M165.3 583.9h0M173.1 597.5h0M166.3 583.1h0M159.8 595.2h0M156.7 592.0h0M155.8 601.5h0M149.0 606.9h0M163.7 590.7h0M157.5 604.0h0M164.9 591.0h0M174.4 592.6h0M157.2 593.3h0M177.0 588.4h0M160.6 601.8h0M157.6 590.1h0M170.1 583.4h0M144.7 596.6h0M152.0 595.1h0M137.3 606.4h0M152.4 590.2h0M162.7 585.4h0M157.0 583.4h0M156.9 583.9h0M156.5 604.0h0M170.6 593.6h0M160.9 604.5h0M157.9 595.7h0M154.2 595.5h0M138.0 599.3h0M157.3 586.6h0M157.9 601.1h0M156.9 595.1h0M167.5 595.4h0M153.3 595.6h0M169.9 603.3h0M150.7 604.4h0M178.9 578.6h0M169.6 587.9h0M150.0 592.3h0M156.9 602.5h0M175.6 587.2h0M152.0 597.9h0M152.8 597.5h0M154.8 606.2h0M171.6 590.8h0M168.4 600.6h0M150.8 622.5h0M171.7 587.3h0M149.4 594.5h0M163.9 587.5h0M167.8 586.8h0M161.2 597.9h0M168.7 583.1h0M149.5 608.2h0M161.0 582.6h0M159.3 607.7h0M169.8 586.0h0M170.7 589.8h0M149.2 602.3h0M175.1 581.1h0M157.6 588.9h0M170.7 584.5h0M164.4 591.5h0M153.0 599.2h0M162.7 599.5h0M158.5 595.1h0M163.7 586.6h0M150.9 602.4h0M164.2 596.3h0M164.9 596.7h0M173.6 591.1h0M149.8 594.9h0M178.6 600.7h0M160.2 595.0h0M172.1 579.8h0M159.9 606.5h0M168.3 584.8h0M166.3 592.2h0M153.2 581.7h0M149.2 610.9h0M171.5 588.4h0M168.4 589.3h0M178.8 577.3h0M155.9 590.5h0M149.4 612.1h0M173.8 592.4h0M139.5 604.9h0M154.7 594.4h0M160.9 600.5h0M154.2 592.8h0M152.0 598.3h0M151.4 596.3h0M179.8 582.8h0M172.9 586.7h0M151.6 601.4h0M162.2 591.5h0M155.3 593.4h0M154.1 597.7h0M161.4 602.9h0M171.8 590.0h0M162.6 594.6h0M140.0 614.3h0M152.3 592.1h0M155.6 593.3h0M151.0 605.5h0M156.7 589.7h0M144.6 603.7h0M165.7 592.1h0M161.3 589.6h0M164.5 600.6h0M168.0 597.4h0M158.0 586.4h0M165.9 598.3h0M153.7 586.8h0M164.9 603.0h0M177.6 583.7h0M175.0 586.1h0M139.5 609.8h0M160.0 596.7h0M177.0 592.6h0M160.5 595.7h0M160.6 602.5h0M149.0 618.4h0M164.9 594.8h0M163.6 601.3h0M161.5 601.6h0M151.2 597.2h0M168.0 588.0h0M161.1 597.8h0M175.8 579.9h0M155.0 605.3h0M165.3 591.0h0M152.2 583.3h0M140.1 610.2h0M164.0 586.9h0M142.6 606.4h0M176.2 578.6h0M158.9 595.8h0M152.5 596.2h0M150.8 613.8h0M145.9 601.5h0M148.0 593.2h0M174.6 582.1h0M168.2 584.1h0M164.2 587.7h0M166.3 587.3h0M151.1 604.1h0M151.3 593.7h0M166.7 598.1h0M151.4 603.4h0M170.4 591.7h0M159.0 600.8h0M160.3 584.4h0M154.5 600.5h0M178.8 582.2h0M149.9 592.5h0M148.6 596.8h0M135.7 613.3h0M170.9 594.8h0M154.1 597.8h0M161.5 598.1h0M154.6 585.5h0M176.7 585.8h0M149.8 603.8h0M158.5 592.9h0M177.9 591.2h0M163.0 597.2h0M162.9 599.0h0M165.4 585.1h0M157.5 599.0h0M162.7 603.5h0M180.0 595.9h0M157.8 602.6h0M176.8 591.4h0M156.4 584.1h0M160.3 600.8h0M161.4 593.6h0M153.9 599.6h0M159.4 590.8h0M169.3 585.6h0M160.3 589.9h0M159.3 587.8h0M165.6 596.0h0M174.1 599.7h0M151.6 604.8h0M160.2 604.0h0M149.2 613.4h0M162.7 599.7h0M149.8 591.0h0M162.6 586.9h0M150.2 591.9h0M172.7 592.8h0M152.8 601.4h0M164.2 577.0h0M180.0 576.3h0M159.3 598.1h0M165.3 595.1h0M156.7 598.5h0M170.1 591.5h0M163.9 595.6h0M159.5 598.1h0M174.4 587.5h0M176.7 589.3h0M172.3 599.6h0M157.4 597.1h0M155.1 598.6h0M152.1 600.2h0M154.7 597.9h0M158.5 603.1h0M157.3 596.6h0M148.5 600.0h0M174.3 590.8h0M167.1 588.1h0M153.4 589.4h0M176.4 600.8h0M173.1 588.8h0M148.4 606.4h0M150.8 605.9h0M165.4 594.4h0M136.0 608.4h0M166.3 592.1h0M178.7 599.9h0M164.0 593.6h0M168.9 600.9h0M148.2 602.0h0M162.3 607.1h0M165.2 593.3h0M169.0 609.6h0M166.6 598.7h0M156.6 591.7h0M178.7 586.1h0M160.4 586.3h0M152.4 600.0h0M156.4 604.0h0M160.6 592.2h0M154.9 585.5h0M159.2 610.5h0M157.5 580.8h0M153.8 584.9h0M161.2 589.9h0M149.6 590.7h0M150.9 620.4h0M161.7 614.0h0M155.8 590.9h0M102.6 594.1h0M142.3 594.8h0M147.0 597.8h0M164.1 619.7h0M136.5 585.7h0M143.2 596.0h0M127.6 619.2h0M118.4 606.3h0M179.1 592.5h0M149.9 598.3h0M165.0 601.2h0M129.8 581.9h0M175.5 578.9h0M167.8 599.6h0M175.4 580.1h0M179.5 607.7h0M176.5 598.9h0M148.2 597.3h0M167.0 593.4h0M151.6 597.7h0M150.8 593.6h0M173.1 584.4h0M129.9 611.1h0M157.3 615.4h0M163.3 599.8h0M156.7 594.7h0M142.9 583.1h0M176.7 601.5h0M165.0 587.8h0M140.0 608.7h0M169.8 629.7h0M128.7 602.8h0M168.2 608.6h0M159.8 599.3h0M157.0 612.7h0M166.8 594.6h0M170.7 577.4h0M156.3 597.4h0M125.9 607.9h0M142.8 601.7h0M172.5 594.5h0M170.6 593.5h0M141.1 612.3h0M127.4 604.5h0M147.6 591.1h0M175.3 606.2h0M133.5 597.9h0M137.7 601.9h0M168.0 601.6h0M164.3 602.9h0M96.9 617.7h0M152.4 593.2h0M152.9 610.1h0M145.1 606.6h0M171.0 599.4h0M140.5 590.5h0M109.5 611.8h0M135.7 606.5h0M179.1 593.7h0M152.2 584.2h0M140.1 614.8h0M175.4 586.7h0M126.5 605.7h0M171.5 597.8h0M147.4 600.3h0M159.9 607.9h0M172.6 615.8h0M134.0 606.1h0M109.3 622.9h0M132.1 605.3h0M145.5 578.8h0M136.8 605.3h0M160.0 590.4h0M173.8 615.3h0M141.0 625.1h0M146.5 625.3h0M159.3 606.7h0M162.2 608.4h0M179.4 591.5h0M135.5 586.3h0M121.1 627.4h0M167.4 605.0h0M167.6 578.6h0M158.3 636.7h0M147.8 606.8h0M154.3 604.8h0M178.7 610.2h0M164.4 623.3h0M111.3 624.9h0M140.2 615.7h0M141.2 595.9h0M167.2 595.9h0M159.5 607.9h0M135.4 623.8h0M147.0 616.9h0M148.8 592.4h0" stroke="#f01010" stroke-width="1.9" stroke-linecap="square" fill="none"/>
<path d="M176.9 578.2h0M186.6 572.2h0M175.1 581.3h0M202.7 566.1h0M171.7 585.1h0M189.7 577.0h0M181.7 580.6h0M179.6 579.3h0M175.2 583.5h0M178.0 575.6h0M174.3 581.5h0M174.8 580.2h0M174.2 581.7h0M182.8 576.1h0M182.7 580.7h0M186.7 581.3h0M179.9 570.5h0M195.3 568.0h0M179.8 581.0h0M171.4 594.2h0M187.6 581.6h0M191.3 573.9h0M172.5 585.6h0M183.7 582.5h0M175.7 579.5h0M174.7 580.1h0M182.5 580.1h0M170.6 587.3h0M170.1 590.7h0M171.3 589.9h0M185.9 580.3h0M177.1 573.5h0M174.3 587.8h0M176.3 584.4h0M183.6 587.0h0M183.4 580.0h0M171.4 588.6h0M171.3 581.9h0M172.9 587.0h0M172.6 583.2h0M180.0 586.3h0M179.1 584.1h0M176.3 585.3h0M177.3 587.3h0M178.7 581.8h0M174.6 584.1h0M175.0 581.7h0M193.3 567.9h0M176.8 578.8h0M171.0 587.4h0M171.5 576.8h0M187.5 581.9h0M172.0 588.4h0M172.2 581.8h0M172.5 576.2h0M185.6 577.6h0M192.8 569.6h0M170.2 588.9h0M172.1 585.8h0M190.3 569.7h0M171.9 590.1h0M172.7 589.1h0M175.7 583.7h0M176.7 582.4h0M187.8 570.5h0M169.5 591.9h0M179.3 579.7h0M191.4 578.8h0M175.9 589.5h0M178.0 585.1h0M185.5 578.9h0M175.8 583.1h0M181.9 573.9h0M178.8 588.1h0M185.2 579.4h0M175.3 579.7h0M182.5 575.1h0M173.9 578.0h0M179.8 574.5h0M171.3 577.4h0M182.9 578.9h0M175.5 582.0h0M189.5 574.7h0M171.7 588.9h0M177.4 586.0h0M175.5 587.1h0M169.6 584.5h0M179.0 587.8h0M183.6 580.8h0M175.2 582.9h0M178.9 587.2h0M169.6 587.2h0M174.4 593.6h0M180.7 580.3h0M182.0 583.2h0M183.5 579.3h0M185.6 569.9h0M196.5 577.8h0M173.1 586.7h0M171.0 588.3h0M171.3 585.7h0M172.7 590.1h0" stroke="#bebebe" stroke-width="1.4" stroke-linecap="square" fill="none"/>
<path d="M185.2 573.3h0M179.9 583.1h0M179.3 573.4h0M185.7 577.3h0M187.9 576.6h0M189.2 576.2h0M181.8 575.7h0M179.2 578.5h0M190.1 573.9h0M179.3 578.7h0M183.1 578.8h0M184.7 573.6h0M183.4 574.8h0M184.3 576.3h0M180.6 575.5h0M188.0 576.6h0M180.1 576.6h0M183.6 574.2h0M185.0 576.8h0M178.3 576.9h0M183.6 579.9h0M177.9 582.8h0M185.4 577.4h0M171.4 582.5h0M181.0 577.9h0M183.3 577.7h0M185.9 573.8h0M182.4 573.5h0M182.8 579.1h0M183.8 580.2h0M182.2 579.8h0M181.7 577.0h0M174.5 578.6h0M184.1 577.2h0M185.8 575.4h0M181.9 579.7h0M185.8 574.4h0M178.0 580.2h0M179.0 576.2h0M181.2 580.5h0M188.6 574.4h0M184.0 576.2h0M182.6 577.1h0M186.4 575.0h0M181.6 577.2h0M189.9 576.4h0M178.5 578.1h0M179.1 572.0h0M185.4 575.0h0M184.5 572.0h0M179.6 578.2h0M177.3 575.8h0M182.9 572.9h0M182.2 579.7h0M180.7 575.8h0M180.3 577.2h0M180.6 579.4h0M181.2 573.7h0M179.4 577.3h0M186.1 577.9h0M177.8 575.0h0M189.4 575.8h0M178.9 576.2h0M183.1 579.0h0M181.8 583.1h0M180.3 580.7h0M178.5 577.0h0M184.1 572.7h0M173.6 581.4h0M180.2 574.7h0M186.9 575.7h0M183.5 578.7h0M181.3 578.6h0M174.2 575.1h0M185.8 571.3h0M187.6 574.6h0M186.1 580.2h0M179.5 576.0h0M181.8 581.3h0M183.1 580.1h0M183.2 573.3h0M179.1 579.3h0M185.1 576.5h0M183.8 578.8h0M181.9 583.1h0M182.5 574.2h0M179.1 578.6h0M185.7 573.4h0M187.3 577.9h0M181.7 573.3h0M181.5 576.8h0M180.1 579.5h0M172.5 581.4h0M175.3 581.7h0M179.6 574.8h0M185.9 575.3h0M181.3 580.9h0M184.9 578.5h0M182.7 574.9h0M182.5 577.3h0M179.6 575.6h0M185.0 574.8h0M189.0 579.2h0M183.2 575.5h0M184.3 576.0h0M184.8 580.2h0M182.8 574.4h0M182.9 577.6h0M186.2 580.4h0M184.6 573.0h0M182.2 579.3h0M185.0 577.6h0M180.2 577.5h0M177.2 577.2h0M178.8 579.6h0M185.7 576.4h0M184.1 573.5h0M188.6 570.5h0M181.1 575.4h0M177.2 576.9h0M187.8 577.4h0M184.8 574.6h0M182.6 578.7h0M188.5 578.6h0M183.7 574.6h0M184.0 573.0h0M188.5 574.4h0M189.5 573.4h0M178.7 579.1h0M184.1 576.3h0M177.0 573.3h0M177.5 581.4h0M184.7 576.1h0M188.7 574.9h0M184.5 574.9h0M180.5 580.9h0M181.5 575.1h0M182.1 574.4h0M181.2 575.8h0M183.2 575.0h0M183.2 576.6h0M181.5 574.6h0M183.0 575.9h0M185.5 578.5h0M180.2 578.0h0M187.7 578.2h0M179.5 580.5h0M181.7 580.0h0M180.2 576.6h0M179.2 578.2h0M178.9 578.7h0M185.0 581.3h0M183.3 576.4h0M182.9 576.5h0M184.6 579.7h0M182.7 575.6h0M187.8 578.9h0M181.0 580.9h0M183.1 579.6h0M179.6 576.2h0M191.2 579.6h0M189.1 577.5h0M185.6 575.5h0M187.6 576.2h0M180.2 578.0h0M186.0 578.3h0M184.6 576.6h0M183.8 576.8h0M185.3 574.5h0M182.1 578.2h0M175.5 581.4h0M177.7 577.0h0M179.3 579.8h0M185.1 574.1h0M187.5 577.8h0M184.0 574.2h0M180.1 578.4h0M178.8 579.8h0M185.7 576.1h0M181.9 578.7h0M188.6 573.6h0M178.7 573.1h0M181.7 577.8h0M181.4 578.9h0M185.5 579.8h0M183.3 577.8h0M189.4 574.3h0M184.7 575.3h0M185.3 576.1h0M174.4 578.5h0M182.0 575.7h0M184.3 578.0h0M180.0 580.4h0M184.2 577.0h0M180.0 578.8h0M184.4 578.2h0M182.7 578.6h0M173.9 579.5h0M183.4 575.0h0M187.8 577.4h0M185.3 575.8h0M183.5 575.0h0M186.3 579.1h0M188.5 575.9h0M180.8 579.3h0M182.4 579.9h0M187.1 574.9h0M180.0 576.0h0M184.0 576.6h0M186.6 576.2h0M182.3 576.1h0M176.6 581.8h0M185.0 573.9h0M177.2 578.7h0M180.8 578.4h0M185.3 572.8h0M189.5 572.9h0M185.5 576.0h0M176.5 578.0h0M178.9 580.9h0" stroke="#000" stroke-width="1.7" stroke-linecap="square" fill="none"/>
<ellipse cx="183.2" cy="577.0" rx="5.5" ry="4.3" fill="#000" transform="rotate(-20 183.2 577.0)"/>
<line x1="94.55" y1="631.49" x2="218.99" y2="554.44" stroke="#000" stroke-width="1.4"/>
<rect x="80.5" y="526.6" width="152.0" height="154.29999999999995" fill="none" stroke="#000" stroke-width="1.3"/>
<line x1="78.0" y1="526.57" x2="80.5" y2="526.57" stroke="#000" stroke-width="1"/>
<text x="74.00" y="530.57" font-size="11.8" text-anchor="end" fill="#000" >5</text>
<line x1="78.0" y1="578.00" x2="80.5" y2="578.00" stroke="#000" stroke-width="1"/>
<text x="74.00" y="582.00" font-size="11.8" text-anchor="end" fill="#000" >0</text>
<line x1="78.0" y1="629.43" x2="80.5" y2="629.43" stroke="#000" stroke-width="1"/>
<text x="74.00" y="633.43" font-size="11.8" text-anchor="end" fill="#000" >-5</text>
<line x1="78.0" y1="680.87" x2="80.5" y2="680.87" stroke="#000" stroke-width="1"/>
<text x="74.00" y="684.87" font-size="11.8" text-anchor="end" fill="#000" >-10</text>
<line x1="80.37" y1="680.9" x2="80.37" y2="683.4" stroke="#000" stroke-width="1"/>
<text x="81.37" y="695.60" font-size="11.8" text-anchor="middle" fill="#000" >-10</text>
<line x1="131.03" y1="680.9" x2="131.03" y2="683.4" stroke="#000" stroke-width="1"/>
<text x="132.03" y="695.60" font-size="11.8" text-anchor="middle" fill="#000" >-5</text>
<line x1="181.70" y1="680.9" x2="181.70" y2="683.4" stroke="#000" stroke-width="1"/>
<text x="181.70" y="695.60" font-size="11.8" text-anchor="middle" fill="#000" >0</text>
<line x1="232.37" y1="680.9" x2="232.37" y2="683.4" stroke="#000" stroke-width="1"/>
<text x="232.37" y="695.60" font-size="11.8" text-anchor="middle" fill="#000" >5</text>
<text x="164.40" y="710.70" font-size="11.8" text-anchor="middle" fill="#000" >log<tspan font-size="11" dy="4.2">2</tspan><tspan dy="-4.2"> FC (Human v1)</tspan></text>
<text x="0" y="0" font-size="11.8" text-anchor="middle" transform="translate(49.0 599.6) rotate(-90)">log<tspan font-size="11" dy="4.2">2</tspan><tspan dy="-4.2"> FC (Brunello)</tspan></text>
<text x="91.00" y="546.50" font-size="11.8" text-anchor="start" fill="#000" ><tspan font-style="italic">r</tspan><tspan font-size="8.6" dy="-5">2</tspan><tspan dy="5"> = 0.59</tspan></text>
<line x1="285.0" y1="578.0" x2="437.5" y2="578.0" stroke="#c4c4c4" stroke-width="1"/>
<line x1="386.7" y1="526.7" x2="386.7" y2="680.5" stroke="#c4c4c4" stroke-width="1"/>
<path d="M412.2 562.2h0M379.5 582.0h0M372.4 591.5h0M382.9 584.0h0M385.8 581.3h0M359.5 601.8h0M368.9 599.3h0M376.8 587.0h0M375.2 584.0h0M385.0 585.3h0M389.7 579.3h0M373.3 593.3h0M371.1 582.1h0M391.0 578.9h0M374.5 589.4h0M388.9 576.8h0M365.9 592.3h0M365.6 588.9h0M368.6 586.4h0M373.7 581.9h0M367.6 592.3h0M372.1 593.1h0M405.2 561.1h0M371.2 585.3h0M359.3 590.3h0M388.6 580.1h0M374.0 586.1h0M382.2 584.0h0M369.0 591.4h0M373.3 584.2h0M378.5 583.5h0M360.8 596.9h0M373.6 589.8h0M376.5 587.1h0M362.2 590.0h0M384.0 585.5h0M364.9 593.6h0M362.2 593.1h0M371.9 591.7h0M359.6 602.3h0M388.8 577.9h0M371.7 591.6h0M384.6 575.2h0M370.5 588.0h0M374.6 585.2h0M379.1 581.0h0M376.8 583.7h0M371.1 588.5h0M368.8 584.6h0M393.9 579.2h0M386.7 578.7h0M380.8 578.5h0M365.7 587.4h0M377.6 582.0h0M377.2 583.8h0M388.2 582.8h0M388.2 577.1h0M375.2 586.5h0M377.6 585.5h0M358.6 605.7h0M381.6 585.4h0M372.4 588.8h0M367.0 584.3h0M378.1 585.4h0M367.5 586.9h0M387.1 582.9h0M365.4 586.0h0M371.3 589.1h0M376.6 583.3h0M383.7 585.9h0M371.7 596.2h0M383.7 582.0h0M361.2 590.0h0M374.0 589.6h0M379.2 583.0h0M372.4 586.1h0M352.2 601.5h0M384.6 576.5h0M361.3 596.1h0M400.9 569.9h0M370.7 596.4h0M379.6 585.7h0M383.1 580.8h0M354.8 599.0h0M385.9 582.6h0M366.2 596.9h0M364.9 582.8h0M392.1 579.0h0M391.7 581.3h0M372.6 591.2h0M376.2 582.9h0M398.2 569.5h0M375.7 584.4h0M369.4 588.7h0M369.8 587.7h0M380.8 586.7h0M358.4 598.8h0M386.6 580.9h0M400.5 568.9h0M370.8 589.5h0M382.5 579.9h0M375.6 584.2h0M379.6 585.9h0M360.3 594.5h0M373.9 587.4h0M372.5 584.6h0M388.5 581.6h0M364.4 591.5h0M391.6 574.9h0M382.7 588.1h0M372.5 585.5h0M381.5 582.7h0M383.5 577.7h0M364.0 592.2h0M376.2 586.6h0M375.2 583.6h0M369.2 599.4h0M372.5 584.5h0M371.9 589.4h0M359.6 590.5h0M360.7 598.0h0M376.1 577.4h0M379.0 587.4h0M363.2 594.9h0M365.8 594.8h0M378.3 579.3h0M367.0 585.3h0M358.8 587.7h0M371.5 590.3h0M373.2 586.6h0M377.3 586.6h0M371.0 591.3h0M371.1 595.2h0M378.1 582.6h0M367.8 586.5h0M377.5 584.7h0M361.2 592.1h0M371.8 588.7h0M385.1 578.3h0M371.6 588.3h0M387.4 576.8h0M377.3 580.7h0M363.3 591.6h0M371.4 590.3h0M385.7 572.6h0M393.9 572.0h0M356.4 600.3h0M371.4 591.6h0M363.3 590.7h0M379.6 576.3h0M370.7 584.7h0M390.2 570.2h0M389.8 581.6h0M372.0 589.0h0M368.5 589.3h0M389.6 575.4h0M374.3 581.3h0M379.1 586.8h0M394.7 572.9h0M370.2 582.1h0M372.0 587.8h0M382.3 582.1h0M376.5 578.6h0M372.5 582.2h0M376.5 589.9h0M378.6 581.8h0M374.6 585.8h0M390.2 581.8h0M398.2 572.3h0M385.8 583.5h0M383.0 581.6h0M370.5 581.5h0M379.9 585.7h0M374.8 585.1h0M372.8 586.7h0M373.6 590.2h0M362.7 590.9h0M373.4 584.9h0M379.1 577.3h0M368.3 585.4h0M374.3 583.1h0M383.0 583.5h0M377.1 574.5h0M383.9 582.7h0M373.5 588.6h0M363.2 590.1h0M370.8 596.1h0M366.8 591.2h0M372.4 588.5h0M370.4 589.7h0M376.3 584.8h0M370.7 590.1h0M366.8 593.3h0M365.6 596.0h0M373.3 592.5h0M371.5 581.5h0M374.3 585.7h0M361.5 590.9h0M381.4 581.7h0M357.9 596.7h0M371.9 586.5h0M378.0 586.8h0M373.9 581.8h0M374.1 584.2h0M374.3 585.4h0M385.1 581.1h0M391.8 573.6h0M363.9 589.6h0M378.6 591.6h0M341.8 605.7h0M378.9 587.5h0M373.8 586.6h0M365.0 587.0h0M365.8 591.7h0M378.3 586.5h0M370.8 585.2h0M362.9 593.6h0M393.6 578.6h0M363.5 595.4h0M350.1 604.5h0M366.9 594.8h0M369.6 587.2h0M378.4 588.8h0M390.4 581.5h0M369.2 591.9h0M391.7 576.1h0M377.7 586.2h0M374.4 590.2h0M362.7 588.4h0M368.6 587.8h0M383.4 580.9h0M374.6 587.1h0M381.0 582.1h0M377.6 590.4h0M389.1 572.8h0M358.4 597.2h0M370.4 581.5h0M365.1 582.8h0M376.2 594.6h0M395.3 575.4h0M362.7 595.9h0M379.2 578.6h0M361.0 592.6h0M369.0 591.6h0M371.4 586.8h0M375.0 583.9h0M373.6 581.3h0M368.0 595.1h0M390.2 580.6h0M361.7 595.7h0M373.4 588.0h0M363.6 592.5h0M379.9 588.4h0M378.1 583.7h0M361.5 594.9h0M386.6 576.5h0M367.4 594.4h0M385.7 579.8h0M385.6 583.1h0M368.6 592.9h0M360.5 598.5h0M388.5 582.3h0M370.5 586.3h0M380.1 588.6h0M372.4 594.9h0M370.8 583.8h0M392.6 577.4h0M383.4 575.9h0M367.3 597.2h0M371.2 598.0h0M384.1 581.7h0M382.1 582.6h0M365.6 589.6h0M372.2 587.2h0M370.7 589.3h0M362.3 593.8h0M374.4 582.6h0M369.5 593.9h0M383.9 590.0h0M372.7 587.8h0M374.5 591.1h0M378.3 585.8h0M370.0 592.6h0M390.0 574.3h0M372.8 583.9h0M354.4 591.8h0M364.5 598.6h0M387.7 586.4h0M370.0 588.5h0M357.2 598.2h0M385.7 583.6h0M390.8 575.8h0M378.3 586.0h0M367.6 586.8h0M365.7 592.5h0M383.9 579.6h0M364.8 592.0h0M375.5 582.0h0M358.1 597.0h0M380.9 585.5h0M361.4 594.9h0M368.1 595.3h0M367.4 599.1h0M388.4 573.9h0M371.6 586.5h0M386.9 582.9h0M371.0 589.0h0M383.8 576.6h0M385.1 580.8h0M371.1 586.1h0M374.2 585.6h0M372.5 590.5h0M373.0 592.3h0M386.4 585.9h0M381.1 585.0h0M377.4 585.1h0M391.0 572.8h0M378.0 580.6h0M390.1 575.1h0M386.7 571.2h0M378.8 586.9h0M389.2 583.2h0M382.4 587.1h0M372.1 588.4h0M391.0 570.5h0M392.4 575.6h0M372.5 579.8h0M362.7 592.4h0M393.6 573.5h0M380.7 578.9h0M369.0 589.9h0M378.0 580.2h0M382.9 581.2h0M367.0 580.0h0M382.3 583.9h0M367.2 589.6h0M372.4 592.7h0M379.3 579.9h0M386.0 579.6h0M381.1 579.0h0M377.2 584.9h0M382.0 589.7h0M382.7 588.3h0M374.8 591.4h0M387.7 580.3h0M393.6 577.3h0M371.0 583.6h0M377.9 578.0h0M376.5 588.3h0M370.5 591.6h0M373.5 589.2h0M366.8 593.9h0M385.1 586.7h0M388.4 576.1h0M371.0 595.1h0M389.4 577.8h0M366.4 591.6h0M378.2 588.4h0M370.4 589.0h0M381.9 576.8h0M387.0 573.1h0M374.2 585.7h0M378.0 585.8h0M373.6 581.5h0M353.2 604.2h0M370.6 581.8h0M385.4 578.7h0M377.6 585.2h0M369.7 593.7h0M377.0 589.7h0M381.9 583.4h0M370.4 587.6h0M371.3 590.0h0M369.5 586.9h0M376.4 583.5h0M373.9 594.5h0M385.4 583.7h0M363.4 597.9h0M376.5 587.5h0M363.6 586.4h0M369.3 593.9h0M367.5 589.6h0M389.7 576.9h0M390.8 576.0h0M382.1 586.6h0M373.7 590.1h0M382.3 587.3h0M368.3 585.8h0M368.4 597.9h0M388.3 578.5h0M369.1 596.7h0M372.0 589.8h0M370.6 589.6h0M359.0 599.4h0M374.2 589.1h0M360.3 597.8h0M363.3 600.5h0M381.3 586.8h0M359.9 594.7h0M363.1 591.5h0M389.2 584.1h0M379.8 590.2h0M376.0 582.6h0M369.6 591.9h0M366.5 599.4h0M378.4 584.7h0M367.7 594.6h0M363.2 590.8h0M382.8 584.2h0M373.8 589.3h0M369.1 588.7h0M386.6 588.4h0M385.6 584.2h0M374.1 593.3h0M372.5 588.8h0M374.6 576.2h0M373.6 588.7h0M385.9 577.4h0M391.6 575.1h0M387.4 577.6h0M374.9 581.4h0M382.2 578.9h0M384.5 577.5h0M386.0 576.9h0M376.5 578.5h0M380.1 576.0h0M379.8 580.2h0M382.2 579.2h0M393.3 578.8h0M389.5 575.4h0M382.1 577.4h0M384.6 577.4h0M381.8 571.7h0M387.0 583.5h0M390.2 578.2h0M379.0 581.4h0M380.9 579.6h0M382.4 582.3h0M388.6 577.0h0M387.5 577.4h0M387.1 577.5h0M394.2 573.8h0M390.7 573.2h0M378.4 578.1h0M377.1 582.8h0M382.5 578.2h0M395.4 577.7h0M377.5 578.5h0M386.6 582.1h0M399.3 573.9h0M388.5 577.5h0M385.8 577.1h0M388.1 574.8h0M379.3 580.4h0M393.4 579.5h0M391.7 579.0h0M393.0 573.2h0M391.1 577.1h0M383.5 580.9h0M389.2 577.7h0M382.5 579.1h0M381.4 576.5h0M392.2 576.8h0M393.8 576.9h0M395.4 575.6h0M380.6 585.1h0M397.9 579.5h0M387.3 575.8h0M386.0 580.8h0M386.6 577.8h0M388.7 576.4h0M381.7 576.7h0M389.3 575.5h0M392.7 575.3h0M381.3 581.7h0M383.5 581.8h0M384.4 583.4h0M387.8 578.1h0M393.5 577.7h0M397.2 575.6h0M386.1 578.3h0M395.6 573.2h0M389.5 577.5h0M385.3 582.1h0M386.8 579.1h0M396.7 576.7h0M395.0 575.8h0M385.8 576.8h0M375.7 586.3h0M397.6 574.3h0M389.9 577.9h0M388.5 578.1h0M387.2 577.6h0M389.2 576.1h0M382.2 580.6h0M396.9 576.4h0M389.6 577.0h0M385.9 573.7h0M391.1 581.9h0M393.8 579.6h0M377.7 582.6h0M392.3 581.1h0M392.7 578.9h0M394.4 574.2h0M383.6 585.3h0M387.5 583.7h0M392.0 578.1h0M394.2 577.8h0M382.2 578.4h0M381.9 579.5h0M387.0 580.2h0M380.3 578.5h0M396.6 576.3h0M382.6 580.3h0M380.9 585.0h0M393.2 576.2h0M385.7 574.1h0M387.5 578.2h0M392.3 578.4h0M389.4 576.6h0M391.5 576.1h0M395.3 573.9h0M391.6 574.8h0M384.4 581.3h0M386.1 575.6h0M380.6 579.1h0M383.6 580.4h0M383.1 584.0h0M395.3 576.7h0M387.7 577.9h0M372.4 578.8h0M396.5 575.9h0M389.0 576.0h0M391.1 574.7h0M391.4 577.5h0M390.6 580.3h0M387.1 575.3h0M395.2 574.7h0M391.8 578.2h0M392.3 577.2h0M382.5 576.2h0M388.1 577.2h0M381.2 579.8h0M389.5 576.1h0M390.5 576.1h0M392.5 573.6h0M393.6 578.7h0M388.7 574.4h0M392.8 577.3h0M387.6 578.3h0M388.8 582.9h0M376.3 582.7h0M379.7 582.9h0M382.2 579.3h0M386.7 574.9h0M387.9 578.6h0M387.0 578.8h0M382.2 582.8h0M394.8 578.0h0M382.8 582.6h0M383.7 582.7h0M383.2 583.9h0M379.1 575.2h0M388.3 577.1h0M394.4 575.1h0M389.5 578.6h0M392.7 578.7h0M386.0 579.8h0M393.9 576.4h0M388.2 574.2h0M395.5 574.8h0M389.2 578.7h0M387.6 575.9h0M390.3 573.8h0M390.2 580.0h0M383.6 584.6h0M390.0 579.7h0M390.6 578.3h0M388.8 578.7h0M386.6 577.2h0M385.2 579.2h0M385.1 579.7h0M384.7 581.6h0M386.6 577.0h0M387.9 579.7h0M381.5 574.5h0M394.3 579.1h0M380.7 583.8h0M393.1 580.8h0M387.8 580.7h0M388.0 580.6h0M386.5 578.6h0M392.4 573.4h0M389.9 576.8h0M396.1 579.7h0M397.4 576.1h0M385.3 575.2h0M385.4 578.8h0M391.9 573.8h0M381.2 578.2h0M389.6 578.0h0M396.1 569.5h0M391.7 575.2h0M383.6 579.8h0M385.2 577.6h0M389.2 579.4h0M386.6 581.2h0M385.4 578.7h0M388.4 578.1h0M388.4 578.2h0M383.2 577.3h0M384.4 580.3h0M392.9 576.6h0M389.4 573.3h0M383.5 582.2h0M398.8 576.5h0M383.6 573.8h0M389.2 578.2h0M376.5 581.5h0M383.6 577.7h0M377.0 580.5h0M395.9 575.5h0M384.1 585.4h0M385.0 580.4h0M382.4 583.0h0M394.4 572.8h0M381.7 581.8h0M383.1 582.2h0M389.6 576.3h0M392.6 576.6h0M389.2 574.1h0M390.1 576.5h0M377.9 581.2h0M385.8 578.4h0M394.2 577.7h0M395.7 578.1h0M396.3 578.4h0M387.6 583.4h0M380.7 586.3h0M390.6 578.0h0M374.4 580.8h0M384.3 582.3h0M385.7 578.0h0M387.1 578.0h0M390.8 574.6h0M380.3 578.7h0M379.7 582.6h0M378.7 582.5h0M393.8 575.6h0M396.3 577.3h0M395.1 582.1h0M391.2 574.4h0M391.4 578.5h0M384.1 579.2h0M398.7 572.4h0M386.9 582.8h0M393.4 578.5h0M393.0 580.4h0M381.7 578.9h0M389.4 574.8h0M388.5 578.4h0M391.3 577.6h0M383.0 579.4h0M395.3 575.1h0M390.1 574.9h0M390.8 579.7h0M386.0 577.3h0M397.8 574.7h0M383.0 579.1h0M388.1 581.2h0M389.6 570.7h0M383.5 577.9h0M393.5 576.7h0M377.4 579.8h0M385.2 580.3h0M389.7 577.2h0M393.4 573.0h0" stroke="#bebebe" stroke-width="1.5" stroke-linecap="square" fill="none"/>
<path d="M361.4 593.3h0M368.3 592.2h0M381.6 586.5h0M364.3 603.0h0M384.2 581.2h0M373.2 593.6h0M382.9 595.6h0M377.8 577.8h0M382.7 582.7h0M373.6 591.0h0M367.3 594.0h0M366.1 595.4h0M363.3 596.5h0M373.6 583.3h0M369.3 590.1h0M367.0 589.6h0M363.7 602.7h0M357.2 604.2h0M367.2 586.5h0M372.4 590.4h0M357.5 603.3h0M364.7 581.0h0M380.8 579.9h0M357.7 602.0h0M366.1 594.2h0M356.8 597.7h0M368.1 603.6h0M365.6 589.4h0M375.6 585.5h0M355.5 596.9h0M371.2 591.1h0M358.0 606.5h0M380.7 582.8h0M378.9 579.1h0M365.1 598.4h0M357.1 593.5h0M371.1 592.5h0M365.0 594.6h0M354.2 597.2h0M368.6 583.4h0M372.0 587.4h0M354.9 603.3h0M364.8 595.4h0M373.9 589.8h0M366.3 587.4h0M376.2 578.3h0M364.5 599.7h0M353.9 606.9h0M368.3 585.9h0M358.6 607.1h0M367.3 595.9h0M372.8 593.8h0M365.6 597.1h0M372.8 600.7h0M373.6 598.3h0M378.0 591.3h0M373.2 594.2h0M373.0 588.0h0M356.7 595.3h0M369.9 597.2h0M371.5 603.0h0M358.6 594.6h0M366.6 589.7h0M371.0 587.7h0M376.4 586.4h0M370.5 595.7h0M373.1 579.7h0M365.1 592.4h0M370.1 591.5h0M378.8 593.4h0M354.0 611.3h0M368.8 585.0h0M370.8 595.1h0M370.0 589.6h0M373.3 588.6h0M360.5 590.5h0M370.0 589.0h0M362.3 606.0h0M384.2 584.0h0M365.7 599.4h0M366.0 594.8h0M368.3 593.6h0M368.8 599.8h0M371.6 588.5h0M362.8 599.3h0M369.8 599.9h0M369.4 595.7h0M374.7 577.8h0M367.2 599.8h0M371.9 591.6h0M365.3 597.2h0M366.8 591.3h0M366.7 593.6h0M374.5 582.9h0M373.8 585.1h0M383.7 586.0h0M380.3 581.5h0M359.5 602.2h0M375.4 602.1h0M358.5 592.1h0M372.1 585.1h0M380.3 592.7h0M358.6 590.5h0M353.1 608.3h0M372.0 597.0h0M366.1 592.8h0M372.3 593.1h0M375.3 587.3h0M373.0 588.0h0M366.4 599.3h0M374.2 594.3h0M379.8 594.2h0M368.0 587.1h0M366.6 597.7h0M374.5 589.7h0M380.1 579.3h0M362.9 602.1h0M346.7 606.6h0M373.0 581.3h0M367.1 590.5h0M365.6 600.4h0M357.2 604.2h0M377.0 586.8h0M355.7 595.7h0M370.7 597.9h0M357.0 594.9h0M368.7 595.1h0M375.3 599.3h0M366.1 587.4h0M362.3 596.8h0M378.8 584.9h0M367.8 599.4h0M365.5 598.0h0M375.8 596.8h0M364.8 595.8h0M377.7 588.1h0M368.9 591.9h0M360.9 587.0h0M355.9 602.1h0M362.3 595.5h0M374.6 584.1h0M365.1 601.6h0M357.7 598.5h0M374.8 578.1h0M372.3 593.7h0M377.5 594.6h0M383.4 582.8h0M371.8 595.8h0M372.1 585.7h0M373.7 589.8h0M366.5 599.8h0M353.6 595.6h0M371.1 596.3h0M371.2 591.5h0M363.3 602.5h0M379.6 587.5h0M357.2 606.5h0M358.8 599.9h0M362.5 592.4h0M366.1 600.9h0M368.8 598.6h0M362.4 601.0h0M355.2 605.0h0M370.6 591.5h0M370.2 588.9h0M375.7 583.9h0M359.8 597.2h0M369.4 595.7h0M382.3 589.7h0M368.4 584.8h0M369.2 593.4h0M361.1 591.2h0M366.2 592.2h0M367.3 590.1h0M367.0 600.6h0M354.8 589.7h0M362.9 591.4h0M361.4 595.4h0M360.9 602.4h0M358.4 601.5h0M370.7 589.3h0M363.1 598.3h0M366.6 594.4h0M365.7 592.9h0M350.3 603.7h0M371.8 588.5h0M365.3 591.8h0M371.9 590.4h0M361.5 607.1h0M383.5 584.1h0M373.0 599.2h0M369.0 595.7h0M364.1 586.4h0M354.0 603.3h0M368.4 583.5h0M373.0 592.9h0M365.6 614.5h0M375.0 588.6h0M380.0 591.3h0M365.6 592.9h0M371.0 593.0h0M371.3 592.0h0M363.9 591.0h0M355.3 606.6h0M351.5 597.4h0M365.3 591.1h0M376.5 589.1h0M365.7 595.3h0M372.1 597.5h0M377.2 594.5h0M366.5 593.9h0M363.1 591.9h0M362.0 593.6h0M369.4 589.4h0M382.4 589.8h0M357.9 592.8h0M379.7 583.2h0M367.7 589.8h0M357.6 600.2h0M367.1 590.7h0M356.4 594.6h0M384.8 589.2h0M366.2 608.6h0M367.4 593.2h0M373.4 580.6h0M367.0 596.4h0M360.9 587.2h0M384.4 591.7h0M376.0 593.1h0M368.6 587.0h0M379.5 585.4h0M367.8 590.5h0M357.3 597.0h0M364.7 595.6h0M374.9 590.3h0M354.5 606.8h0M365.0 600.9h0M371.8 593.2h0M364.5 596.6h0M361.6 597.8h0M373.6 595.6h0M371.1 589.1h0M376.0 584.7h0M381.3 594.9h0M369.0 595.5h0M364.6 599.0h0M371.8 589.8h0M369.4 595.0h0M374.0 593.8h0M355.8 593.0h0M372.9 586.0h0M376.3 594.9h0M369.2 590.8h0M373.9 597.1h0M374.1 591.4h0M366.1 587.1h0M359.2 585.8h0M367.5 591.7h0M365.2 595.5h0M353.9 594.1h0M363.8 601.1h0M360.7 606.8h0M376.2 592.2h0M372.8 583.1h0M364.9 596.6h0M360.7 602.1h0M367.3 595.0h0M359.9 600.4h0M377.8 594.4h0M366.6 601.5h0M370.8 582.4h0M367.6 581.0h0M360.2 599.6h0M361.2 594.4h0M363.9 596.5h0M366.8 593.9h0M364.9 596.7h0M369.2 592.1h0M366.7 594.8h0M356.3 600.0h0M374.5 586.7h0M366.0 589.7h0M365.7 590.6h0M370.0 593.5h0M359.4 605.8h0M367.9 599.5h0M371.0 589.9h0M358.5 604.4h0M363.1 611.6h0M365.7 588.4h0M366.2 584.5h0M379.7 584.1h0M373.3 593.6h0M377.8 589.0h0M376.3 589.1h0M375.7 592.1h0M377.4 598.8h0M356.2 605.0h0M369.2 604.7h0M373.7 597.4h0M366.8 601.5h0M368.9 592.4h0M372.8 592.3h0M364.0 594.7h0M369.6 589.7h0M364.6 596.7h0M376.5 594.3h0M372.9 588.4h0M360.4 627.4h0M359.8 598.3h0M362.4 584.5h0M343.9 592.2h0M384.3 582.9h0M327.8 611.6h0M348.0 599.3h0M339.6 587.1h0M356.4 610.1h0M348.3 598.5h0M357.1 600.9h0M373.0 590.7h0M348.1 602.4h0M348.7 600.2h0M350.7 594.0h0M355.7 598.9h0M377.0 608.2h0M377.3 593.4h0M335.0 600.8h0M331.2 598.5h0M362.1 607.8h0M359.2 611.4h0M374.0 597.6h0M363.5 588.7h0M370.6 593.1h0M375.7 604.9h0M370.9 613.5h0M351.5 610.9h0M373.4 601.5h0M367.9 599.3h0M328.3 629.3h0M346.7 606.2h0M344.6 603.3h0M372.2 585.3h0M368.7 584.3h0M341.2 609.8h0M361.9 600.7h0M377.5 588.4h0M360.3 606.7h0M349.3 605.7h0M348.7 590.5h0M355.4 600.8h0M384.2 585.9h0M376.6 606.1h0M342.0 608.6h0M333.8 609.3h0M345.6 607.9h0M361.6 588.2h0M341.7 604.0h0M379.2 589.0h0M379.3 597.5h0M364.8 613.3h0M384.5 593.6h0M380.9 583.8h0M353.3 610.5h0M358.3 603.9h0M370.8 614.2h0M350.6 585.5h0M377.6 607.2h0M341.3 606.0h0M348.7 601.0h0M355.6 600.2h0M337.3 603.2h0M354.4 579.7h0M332.0 619.6h0M370.8 591.6h0M375.4 587.3h0M378.9 591.8h0M378.5 601.5h0M380.5 584.4h0M342.8 616.4h0M370.5 588.7h0M346.7 595.6h0M371.9 606.5h0M353.8 614.1h0M356.9 597.3h0M358.6 614.3h0M367.3 604.0h0M382.2 587.1h0M357.2 595.3h0M363.1 602.0h0M359.9 580.6h0M356.3 608.1h0M329.3 619.8h0M359.3 592.5h0M343.4 603.5h0M371.4 589.3h0M358.9 608.4h0M379.7 587.1h0M329.2 613.2h0M348.8 616.7h0M380.6 602.2h0M341.6 612.9h0M336.9 599.1h0M322.5 605.0h0M330.9 623.6h0M380.3 578.6h0M367.6 583.9h0M359.8 597.7h0M370.6 609.4h0M354.2 588.0h0M368.6 600.3h0M354.8 581.3h0M357.1 592.6h0M366.9 592.6h0M371.6 584.1h0M362.2 599.5h0M369.1 577.1h0M365.1 606.4h0M374.3 595.8h0M368.5 586.3h0" stroke="#f01010" stroke-width="1.9" stroke-linecap="square" fill="none"/>
<path d="M382.7 582.7h0M387.0 583.4h0M393.0 578.8h0M376.3 575.2h0M388.9 572.2h0M399.1 570.4h0M384.7 582.8h0M387.0 581.8h0M393.5 576.1h0M381.4 590.7h0M401.9 567.8h0M381.6 584.8h0M379.0 585.2h0M375.4 591.2h0M374.7 589.1h0M375.3 587.3h0M385.4 573.6h0M378.3 589.0h0M386.2 584.4h0M376.9 584.7h0M382.5 577.9h0M407.2 563.3h0M378.7 587.4h0M388.8 581.2h0M378.4 586.9h0M390.1 569.1h0M382.3 581.7h0M375.2 585.9h0M387.9 581.3h0M398.3 575.7h0M383.4 585.1h0M374.8 580.8h0M381.3 588.8h0M387.0 577.2h0M383.8 583.5h0M381.9 587.5h0M378.8 580.5h0M386.1 583.2h0M383.3 579.2h0M377.0 583.9h0M378.9 581.9h0M388.2 577.3h0M392.9 576.0h0M379.3 582.9h0M378.1 582.6h0M375.7 586.8h0M388.8 585.4h0M375.2 579.3h0M394.3 576.8h0M392.1 578.4h0M377.7 592.0h0M379.2 581.3h0M374.9 598.1h0M380.2 582.4h0M381.4 578.0h0M376.2 583.3h0M378.9 580.3h0M384.3 578.0h0M378.0 583.0h0M395.5 575.2h0M374.7 584.7h0M387.6 575.9h0M374.6 586.7h0M383.2 582.3h0M384.0 585.3h0M379.8 585.6h0M391.2 581.1h0M383.6 584.5h0M387.0 582.8h0M407.2 568.8h0M394.7 569.4h0M392.1 579.7h0M382.2 589.6h0M381.1 583.4h0M389.2 584.7h0M391.0 585.1h0M392.1 576.2h0M380.1 584.4h0M390.5 571.3h0M395.1 584.7h0M376.3 579.0h0M379.4 586.3h0M383.6 580.6h0M385.0 580.8h0M374.8 594.2h0M384.2 591.0h0M386.6 576.0h0M385.8 576.5h0M382.8 577.5h0M392.5 575.6h0M388.8 579.1h0M379.6 584.4h0M394.3 574.4h0M383.7 582.9h0M382.1 583.3h0M389.6 574.9h0M379.2 587.3h0M392.0 579.0h0M376.2 584.6h0M379.3 584.9h0M388.1 574.3h0M387.6 573.5h0M381.7 579.3h0" stroke="#bebebe" stroke-width="1.4" stroke-linecap="square" fill="none"/>
<path d="M375.4 581.1h0M388.4 571.6h0M379.3 583.4h0M393.6 578.9h0M382.7 581.4h0M382.9 578.4h0M386.0 578.6h0M390.2 569.4h0M382.8 577.5h0M384.2 579.7h0M387.8 572.8h0M380.1 576.4h0M383.0 579.1h0M382.6 576.3h0M395.6 570.6h0M390.7 572.3h0M393.2 574.2h0M390.0 572.2h0M376.4 579.0h0M388.7 570.5h0M387.6 579.4h0M388.5 579.0h0M382.1 576.1h0M389.0 578.6h0M386.5 578.6h0M394.1 578.8h0M391.7 575.6h0M386.1 581.2h0M388.2 575.6h0M380.2 585.5h0M385.2 580.9h0M390.1 576.3h0M389.3 576.4h0M388.6 578.1h0M387.3 579.4h0M392.5 575.9h0M387.5 578.2h0M389.8 577.4h0M387.5 578.7h0M389.5 575.4h0M386.7 577.1h0M387.3 576.2h0M388.3 573.7h0M390.5 572.4h0M386.6 574.8h0M381.0 579.1h0M385.6 577.4h0M384.5 580.6h0M390.2 572.9h0M393.5 574.3h0M385.2 574.3h0M392.5 573.0h0M387.0 577.0h0M385.0 578.0h0M389.6 577.6h0M389.0 573.9h0M383.6 580.8h0M385.5 581.1h0M393.6 574.6h0M381.5 574.4h0M383.6 578.0h0M394.4 573.9h0M385.2 578.5h0M389.7 576.4h0M382.1 580.8h0M383.1 577.6h0M383.5 580.7h0M384.9 576.0h0M382.4 578.9h0M382.6 574.4h0M379.3 586.9h0M390.2 571.8h0M384.1 579.6h0M379.1 580.6h0M383.9 578.7h0M385.3 573.4h0M389.2 575.5h0M384.5 581.2h0M390.3 577.8h0M381.3 573.6h0M385.1 574.2h0M391.2 574.0h0M381.8 578.7h0M395.8 572.4h0M394.5 575.0h0M391.2 580.4h0M395.9 574.3h0M385.3 577.2h0M386.1 576.8h0M377.0 581.3h0M389.7 577.1h0M385.1 579.4h0M388.1 578.1h0M391.8 573.2h0M392.0 575.6h0M378.3 580.6h0M381.0 581.6h0M383.1 579.5h0M381.9 578.3h0M389.5 574.6h0M391.2 572.4h0M381.3 578.4h0M381.5 576.7h0M387.6 577.8h0M395.5 572.2h0M389.8 568.6h0M385.4 576.0h0M393.0 573.8h0M385.9 577.9h0M387.1 577.8h0M377.2 580.2h0M396.3 572.2h0M387.6 579.0h0M385.2 578.8h0M382.6 585.2h0M386.7 576.7h0M391.5 574.9h0M378.6 587.2h0M394.3 576.7h0M381.7 581.9h0M385.6 578.6h0M388.7 578.7h0M393.9 568.9h0M388.0 577.7h0M386.0 577.6h0M388.8 578.3h0M380.6 578.4h0M387.0 577.8h0M383.6 579.8h0M383.3 574.1h0M384.3 581.8h0M386.9 574.7h0M381.8 579.5h0M378.3 579.9h0M388.0 575.5h0M381.2 579.7h0M389.3 577.8h0M390.1 575.9h0M383.4 577.8h0M388.9 574.7h0M384.9 576.8h0M389.2 572.3h0M384.1 573.1h0M386.5 576.7h0M391.4 571.0h0M377.7 583.1h0M383.4 577.5h0M382.9 577.3h0M387.0 583.3h0M385.1 582.1h0M384.8 575.5h0M396.9 572.9h0M393.3 576.7h0M384.9 576.0h0M383.6 579.6h0M384.2 578.0h0M391.2 580.5h0M384.3 583.2h0M392.1 576.2h0M394.1 573.4h0M383.2 577.7h0M386.7 574.0h0M389.8 577.6h0M382.8 580.0h0M389.9 578.4h0M388.9 576.5h0M391.1 576.0h0M388.1 579.2h0M385.2 572.8h0M385.1 578.7h0M383.1 580.6h0M392.7 575.2h0M381.7 581.4h0M392.2 574.8h0M392.5 575.8h0M387.1 575.2h0M384.8 575.5h0M386.0 574.6h0M388.3 575.6h0M391.5 574.2h0M388.9 574.5h0M388.6 574.1h0M386.9 577.5h0M384.4 573.5h0M398.0 570.9h0M390.4 574.3h0M394.4 575.8h0M387.1 574.4h0M384.0 575.6h0M394.7 573.0h0M378.8 578.5h0M389.2 575.1h0M390.4 579.0h0M382.2 576.6h0M390.5 575.1h0M393.5 568.9h0M395.5 576.7h0M375.9 587.8h0M386.1 575.4h0M393.5 577.5h0M388.9 580.0h0M386.7 577.6h0M385.7 575.4h0M389.4 577.7h0M382.3 581.5h0M383.0 577.7h0M385.3 575.4h0M384.3 578.2h0M388.8 578.0h0M386.2 577.0h0M385.1 574.4h0M380.3 582.5h0M384.9 579.7h0M395.4 574.3h0M386.2 582.7h0M388.4 579.1h0M392.3 575.2h0M384.7 577.1h0M389.2 573.5h0M387.0 579.5h0" stroke="#000" stroke-width="1.7" stroke-linecap="square" fill="none"/>
<ellipse cx="387.2" cy="577.0" rx="7.5" ry="4.3" fill="#000" transform="rotate(-25 387.2 577.0)"/>
<line x1="299.27" y1="630.19" x2="423.00" y2="556.16" stroke="#000" stroke-width="1.4"/>
<rect x="285.0" y="526.7" width="152.5" height="153.79999999999995" fill="none" stroke="#000" stroke-width="1.3"/>
<line x1="282.5" y1="526.73" x2="285.0" y2="526.73" stroke="#000" stroke-width="1"/>
<text x="278.50" y="530.73" font-size="11.8" text-anchor="end" fill="#000" >5</text>
<line x1="282.5" y1="578.00" x2="285.0" y2="578.00" stroke="#000" stroke-width="1"/>
<text x="278.50" y="582.00" font-size="11.8" text-anchor="end" fill="#000" >0</text>
<line x1="282.5" y1="629.27" x2="285.0" y2="629.27" stroke="#000" stroke-width="1"/>
<text x="278.50" y="633.27" font-size="11.8" text-anchor="end" fill="#000" >-5</text>
<line x1="282.5" y1="680.53" x2="285.0" y2="680.53" stroke="#000" stroke-width="1"/>
<text x="278.50" y="684.53" font-size="11.8" text-anchor="end" fill="#000" >-10</text>
<line x1="285.03" y1="680.5" x2="285.03" y2="683.0" stroke="#000" stroke-width="1"/>
<text x="286.03" y="695.60" font-size="11.8" text-anchor="middle" fill="#000" >-10</text>
<line x1="335.87" y1="680.5" x2="335.87" y2="683.0" stroke="#000" stroke-width="1"/>
<text x="336.87" y="695.60" font-size="11.8" text-anchor="middle" fill="#000" >-5</text>
<line x1="386.70" y1="680.5" x2="386.70" y2="683.0" stroke="#000" stroke-width="1"/>
<text x="386.70" y="695.60" font-size="11.8" text-anchor="middle" fill="#000" >0</text>
<line x1="437.53" y1="680.5" x2="437.53" y2="683.0" stroke="#000" stroke-width="1"/>
<text x="437.53" y="695.60" font-size="11.8" text-anchor="middle" fill="#000" >5</text>
<text x="366.30" y="710.70" font-size="11.8" text-anchor="middle" fill="#000" >log<tspan font-size="11" dy="4.2">2</tspan><tspan dy="-4.2"> FC (Human v1)</tspan></text>
<text x="0" y="0" font-size="11.8" text-anchor="middle" transform="translate(257.8 599.6) rotate(-90)">log<tspan font-size="11" dy="4.2">2</tspan><tspan dy="-4.2"> FC (Whitehead)</tspan></text>
<text x="294.50" y="546.50" font-size="11.8" text-anchor="start" fill="#000" ><tspan font-style="italic">r</tspan><tspan font-size="8.6" dy="-5">2</tspan><tspan dy="5"> = 0.62</tspan></text>
<line x1="490.8" y1="577.8" x2="643.3" y2="577.8" stroke="#c4c4c4" stroke-width="1"/>
<line x1="592.6" y1="526.8" x2="592.6" y2="680.3" stroke="#c4c4c4" stroke-width="1"/>
<path d="M574.7 596.8h0M587.0 586.8h0M575.2 600.9h0M578.3 595.8h0M564.6 603.2h0M576.3 593.7h0M594.6 579.3h0M582.4 584.5h0M574.8 598.4h0M571.3 593.8h0M582.9 589.2h0M604.5 565.0h0M594.6 581.4h0M589.3 579.4h0M593.8 577.8h0M581.9 584.4h0M599.6 571.3h0M584.3 591.3h0M589.3 579.4h0M590.2 579.9h0M579.7 593.8h0M577.4 591.4h0M571.5 598.8h0M583.4 585.4h0M577.1 591.8h0M585.4 585.7h0M576.5 594.0h0M578.1 583.7h0M583.1 589.4h0M574.0 594.8h0M574.6 598.4h0M576.7 591.6h0M578.5 591.2h0M598.4 581.3h0M582.9 587.2h0M573.5 591.0h0M582.8 585.7h0M589.2 576.1h0M580.0 592.1h0M575.3 598.6h0M598.5 575.6h0M571.8 593.9h0M598.2 577.9h0M584.5 591.3h0M569.6 599.2h0M575.9 597.9h0M584.9 583.8h0M579.9 591.1h0M591.5 570.8h0M585.8 590.0h0M596.0 576.3h0M569.9 593.8h0M586.1 586.6h0M587.0 590.8h0M585.0 583.6h0M575.3 588.4h0M583.6 594.9h0M597.0 576.6h0M599.6 572.7h0M579.5 592.7h0M579.7 586.0h0M579.6 589.3h0M586.9 582.6h0M581.0 587.9h0M573.9 593.6h0M584.6 585.0h0M580.7 586.8h0M579.5 583.1h0M579.9 587.7h0M583.6 589.6h0M591.4 580.5h0M599.5 565.9h0M572.8 604.0h0M577.7 585.4h0M589.9 580.6h0M586.3 588.3h0M586.7 585.3h0M589.4 573.8h0M571.8 593.6h0M593.4 581.4h0M585.6 579.1h0M577.2 590.8h0M595.1 572.9h0M588.9 581.7h0M578.0 588.4h0M584.6 587.7h0M590.6 577.1h0M581.4 589.3h0M601.2 580.7h0M577.0 588.8h0M590.6 593.3h0M575.4 593.5h0M580.9 584.3h0M578.5 592.0h0M568.1 597.7h0M585.0 582.5h0M579.4 582.8h0M579.8 582.8h0M598.5 577.5h0M586.1 587.1h0M571.0 595.2h0M584.7 580.3h0M596.7 582.3h0M591.0 579.7h0M578.5 592.0h0M574.1 600.1h0M579.2 585.3h0M594.6 572.6h0M586.0 585.3h0M578.7 589.2h0M591.1 582.8h0M577.3 592.3h0M584.3 583.1h0M585.7 584.7h0M572.6 598.2h0M581.6 591.2h0M587.5 583.5h0M578.2 589.8h0M592.8 569.5h0M583.6 588.8h0M580.0 587.4h0M582.5 584.2h0M578.9 592.6h0M582.2 588.8h0M574.6 595.6h0M578.0 584.2h0M594.5 580.0h0M580.6 588.0h0M580.0 592.2h0M589.3 577.6h0M587.8 577.6h0M581.1 590.8h0M578.1 585.9h0M584.7 589.5h0M588.9 583.1h0M572.8 598.4h0M595.6 580.1h0M577.1 593.5h0M576.9 596.7h0M575.2 598.0h0M573.1 601.4h0M584.0 590.3h0M591.9 586.9h0M597.8 579.9h0M581.9 582.6h0M590.1 583.6h0M588.8 583.7h0M586.9 582.4h0M570.8 600.1h0M584.7 578.7h0M589.5 580.9h0M572.2 598.5h0M572.8 595.7h0M579.8 587.0h0M586.6 580.6h0M581.7 590.6h0M579.9 593.3h0M587.0 590.1h0M581.9 589.4h0M577.6 590.1h0M588.5 584.4h0M589.7 579.1h0M592.7 581.6h0M593.7 577.2h0M604.3 572.8h0M573.8 590.9h0M573.2 591.3h0M586.6 590.6h0M580.3 596.7h0M598.2 578.0h0M576.8 588.6h0M589.2 579.5h0M588.9 576.8h0M583.5 585.5h0M586.4 578.3h0M589.1 580.6h0M571.3 600.0h0M577.6 597.6h0M585.2 583.0h0M593.2 584.4h0M573.0 603.7h0M587.3 587.4h0M587.6 579.4h0M585.4 585.2h0M568.7 596.6h0M589.2 580.8h0M585.7 589.2h0M576.3 583.6h0M593.2 578.0h0M593.2 582.7h0M564.8 607.0h0M589.9 578.2h0M586.3 591.0h0M583.3 574.7h0M600.2 573.0h0M582.6 587.4h0M584.4 587.7h0M570.7 596.8h0M580.4 585.5h0M562.2 601.9h0M581.4 590.1h0M590.6 584.4h0M588.7 583.3h0M596.5 572.9h0M571.6 595.5h0M577.1 590.8h0M583.7 590.5h0M576.8 592.5h0M583.1 588.5h0M574.7 593.1h0M577.9 599.6h0M571.0 590.0h0M582.3 591.7h0M577.8 593.2h0M583.5 587.6h0M590.2 583.4h0M581.3 586.0h0M588.3 586.0h0M573.9 586.8h0M595.8 583.7h0M582.1 591.4h0M587.1 582.6h0M572.6 606.5h0M591.1 574.1h0M571.8 601.4h0M601.4 571.9h0M592.9 573.9h0M597.1 573.8h0M575.5 598.6h0M602.0 568.4h0M591.3 581.2h0M578.2 589.8h0M573.8 599.3h0M574.4 591.3h0M591.5 581.0h0M588.0 584.1h0M572.5 600.5h0M579.3 588.5h0M583.2 583.3h0M578.4 588.5h0M584.8 580.2h0M585.5 582.0h0M568.1 598.1h0M583.7 584.1h0M586.0 589.9h0M587.8 577.7h0M585.5 577.5h0M577.1 588.1h0M587.8 589.2h0M582.1 584.9h0M576.4 595.4h0M583.8 588.0h0M585.0 585.4h0M584.6 590.3h0M594.9 578.7h0M590.3 583.4h0M599.0 571.4h0M592.6 578.5h0M576.3 592.0h0M588.3 584.0h0M590.6 581.4h0M576.8 601.0h0M578.1 598.6h0M601.5 565.9h0M590.3 587.1h0M583.0 592.7h0M596.1 579.9h0M587.5 579.2h0M593.5 584.6h0M584.5 587.1h0M581.0 598.2h0M596.0 577.7h0M585.4 588.7h0M583.8 583.0h0M588.1 580.3h0M584.8 584.9h0M578.5 585.5h0M585.7 585.6h0M575.3 596.2h0M592.2 571.7h0M587.7 588.0h0M570.4 599.7h0M599.1 570.6h0M578.1 592.0h0M596.0 571.7h0M570.8 593.0h0M588.9 580.3h0M572.0 603.6h0M579.4 593.1h0M587.5 587.6h0M577.4 594.4h0M593.0 575.1h0M580.7 587.8h0M578.5 591.0h0M589.6 582.5h0M583.7 586.8h0M573.2 595.6h0M575.0 596.5h0M583.4 587.7h0M586.8 586.1h0M574.9 591.2h0M588.2 584.3h0M581.8 583.6h0M578.2 603.2h0M591.6 578.3h0M591.1 581.3h0M584.5 579.9h0M580.6 589.8h0M582.6 590.5h0M580.5 586.1h0M576.5 594.0h0M573.7 595.6h0M590.1 574.6h0M577.8 598.2h0M575.7 595.4h0M590.3 586.1h0M582.9 579.2h0M588.3 586.6h0M593.9 570.9h0M580.5 586.3h0M582.2 581.6h0M590.8 584.7h0M568.8 598.2h0M578.3 598.4h0M581.2 585.8h0M580.2 585.7h0M580.0 591.1h0M568.0 604.0h0M584.5 586.4h0M573.8 594.2h0M606.6 562.9h0M586.7 589.1h0M573.7 595.8h0M576.6 589.5h0M577.4 592.2h0M580.2 591.6h0M584.0 584.0h0M576.5 595.2h0M578.3 593.2h0M583.8 588.9h0M588.9 579.2h0M585.7 580.7h0M573.7 595.2h0M597.2 575.7h0M586.2 579.8h0M583.3 577.7h0M585.6 582.2h0M580.2 586.3h0M581.3 587.6h0M576.3 597.4h0M585.1 583.3h0M589.2 581.4h0M573.9 595.7h0M597.6 577.6h0M587.7 580.6h0M593.8 577.1h0M604.7 571.8h0M575.5 587.3h0M591.1 577.7h0M588.4 578.2h0M582.8 589.3h0M579.9 587.2h0M598.4 569.4h0M581.1 594.0h0M586.2 587.6h0M581.2 595.3h0M572.4 594.9h0M585.7 582.2h0M579.3 597.5h0M587.1 579.7h0M588.1 585.6h0M580.7 581.7h0M582.3 589.6h0M575.1 593.6h0M601.9 569.4h0M601.8 569.7h0M580.5 587.1h0M565.6 601.7h0M568.4 606.4h0M579.2 599.9h0M586.5 584.7h0M584.4 586.7h0M571.5 594.8h0M587.5 588.8h0M580.1 587.2h0M577.9 590.6h0M585.6 580.3h0M604.4 571.5h0M601.4 571.7h0M594.1 577.6h0M598.5 577.1h0M586.2 577.0h0M600.3 574.2h0M597.9 578.9h0M596.8 576.7h0M596.3 578.3h0M591.4 582.1h0M594.8 581.2h0M583.8 581.6h0M592.9 579.9h0M600.3 574.4h0M586.2 581.6h0M589.4 571.5h0M588.8 580.7h0M595.3 575.8h0M592.4 574.1h0M584.9 577.7h0M589.1 574.4h0M601.8 576.3h0M594.9 579.6h0M588.3 578.6h0M581.4 577.0h0M586.4 573.8h0M593.1 580.0h0M588.2 578.1h0M580.5 579.8h0M589.3 581.3h0M589.2 580.2h0M597.4 574.8h0M597.1 581.3h0M601.4 574.9h0M594.4 581.3h0M598.2 577.2h0M596.5 574.7h0M604.5 574.0h0M585.9 578.6h0M586.8 579.7h0M586.6 576.5h0M605.6 580.5h0M587.9 580.6h0M580.8 584.1h0M593.1 577.5h0M582.5 581.0h0M596.8 575.0h0M588.1 582.0h0M589.0 575.2h0M597.6 580.4h0M595.7 578.3h0M588.7 577.7h0M592.2 575.5h0M602.0 577.3h0M596.8 573.1h0M591.1 580.1h0M592.0 577.1h0M584.9 578.9h0M590.8 576.7h0M594.1 570.5h0M593.6 574.9h0M594.4 574.5h0M595.8 582.5h0M582.3 583.9h0M591.6 574.4h0M590.7 577.1h0M590.6 577.5h0M591.3 579.6h0M591.3 582.6h0M599.0 576.0h0M589.0 582.2h0M592.9 578.3h0M593.5 579.3h0M602.9 574.8h0M590.3 578.0h0M597.1 574.8h0M592.8 578.6h0M587.5 579.8h0M597.7 578.7h0M597.5 573.7h0M595.7 576.6h0M599.4 578.3h0M591.3 577.0h0M597.2 574.7h0M581.8 578.0h0M588.2 578.8h0M588.9 579.1h0M588.0 579.4h0M595.2 574.9h0M594.0 578.8h0M583.6 584.3h0M588.4 580.8h0M599.7 579.3h0M593.5 577.7h0M598.9 577.8h0M593.4 577.6h0M595.4 573.1h0M591.0 579.4h0M594.1 582.3h0M600.1 574.0h0M590.9 576.3h0M592.0 575.0h0M605.6 570.9h0M603.5 568.8h0M599.3 575.8h0M591.2 570.4h0M581.0 572.3h0M591.7 577.4h0M592.1 577.5h0M590.3 578.6h0M594.2 576.2h0M585.8 572.5h0M585.9 580.8h0M596.4 579.5h0M593.1 578.3h0M583.2 581.5h0M591.8 577.2h0M602.1 577.8h0M592.5 576.9h0M588.9 577.0h0M592.8 572.8h0M584.2 582.2h0M580.6 582.4h0M589.3 581.3h0M582.6 580.4h0M588.5 581.6h0M599.4 571.5h0M586.0 586.7h0M590.5 577.7h0M598.4 575.7h0M589.4 579.0h0M593.0 579.7h0M596.4 577.8h0M594.8 576.3h0M596.4 582.4h0M592.1 580.1h0M598.1 580.1h0M593.4 572.1h0M594.0 579.8h0M592.9 578.1h0M595.4 576.6h0M596.1 579.8h0M583.6 584.1h0M592.9 576.6h0M592.5 571.9h0M592.9 577.3h0M598.6 575.3h0M596.7 578.2h0M594.5 580.0h0M601.2 576.2h0M594.0 575.3h0M588.1 579.9h0M580.3 579.5h0M598.7 575.8h0M593.3 583.6h0M597.5 578.6h0M586.1 575.5h0M581.1 584.2h0M600.6 572.7h0M591.2 586.9h0M593.6 574.2h0M597.3 579.2h0M599.6 573.3h0M595.3 576.0h0M599.9 576.2h0M606.6 575.8h0M596.1 575.6h0M593.9 579.4h0M595.6 576.6h0M601.8 579.6h0M597.4 578.7h0M594.1 574.4h0M597.4 576.4h0M608.1 578.0h0M590.8 577.2h0M584.3 584.1h0M587.3 580.9h0M589.1 582.7h0M592.2 575.9h0M587.4 579.1h0M597.3 576.9h0M600.6 575.4h0M606.9 575.2h0M605.6 567.0h0M597.3 577.9h0M593.8 576.0h0M586.5 579.4h0M595.2 574.3h0M590.4 578.9h0M591.9 579.4h0M590.1 578.3h0M598.2 573.8h0M596.0 580.2h0M596.0 575.9h0M598.5 579.0h0M592.7 575.5h0M598.1 573.8h0M603.4 574.9h0M595.3 575.0h0M595.5 577.5h0M589.3 575.9h0M586.5 583.4h0M596.1 579.8h0M594.3 579.5h0M596.1 582.0h0M603.2 574.7h0M591.9 577.2h0M596.3 575.4h0M597.8 581.5h0M590.0 580.6h0M593.0 576.2h0M599.1 575.0h0M587.6 583.3h0M594.0 583.2h0M585.3 582.0h0M587.8 582.1h0M594.0 578.9h0M597.4 576.4h0M588.7 577.5h0M601.0 574.1h0M590.0 580.5h0M597.1 578.2h0M585.6 573.5h0M593.6 576.0h0M598.7 575.5h0M589.1 580.4h0M586.2 581.3h0M576.1 585.6h0M593.6 578.9h0M601.1 578.0h0M594.9 582.7h0M596.0 578.7h0M586.9 577.4h0M584.1 581.0h0M585.7 578.3h0M590.1 577.0h0M589.6 581.1h0M589.6 576.8h0M589.9 577.2h0M588.4 576.9h0M597.1 574.9h0M590.6 580.7h0M594.8 579.6h0M587.6 578.7h0M590.4 576.0h0M604.0 578.5h0M601.1 572.6h0M589.1 581.3h0M594.8 575.4h0" stroke="#bebebe" stroke-width="1.5" stroke-linecap="square" fill="none"/>
<path d="M573.7 595.5h0M588.1 595.6h0M580.2 592.6h0M572.3 599.7h0M575.8 602.9h0M575.0 607.7h0M577.8 589.1h0M567.5 613.7h0M567.5 602.6h0M575.8 595.2h0M584.5 593.8h0M578.3 591.1h0M564.8 598.8h0M584.0 598.9h0M587.8 589.3h0M576.6 590.8h0M569.8 602.2h0M581.2 577.5h0M581.7 589.7h0M580.4 585.6h0M576.4 598.8h0M580.2 583.2h0M584.3 593.2h0M585.5 593.0h0M571.6 597.6h0M578.1 588.1h0M586.7 592.1h0M577.4 606.3h0M581.0 595.9h0M578.0 592.6h0M575.2 598.6h0M580.0 603.2h0M584.8 579.8h0M573.8 590.2h0M578.5 594.7h0M578.2 589.2h0M585.3 599.5h0M573.9 595.6h0M580.2 596.6h0M562.8 613.5h0M578.3 601.8h0M570.5 603.3h0M569.6 600.9h0M573.6 609.4h0M582.6 589.9h0M569.8 608.8h0M570.4 601.5h0M578.2 585.3h0M582.6 589.2h0M581.1 598.2h0M573.7 598.8h0M589.7 581.0h0M583.6 585.0h0M570.9 601.7h0M572.5 591.0h0M574.4 597.4h0M571.2 590.7h0M572.6 600.1h0M569.7 600.5h0M581.0 590.1h0M579.8 600.8h0M575.2 589.9h0M577.8 591.9h0M576.3 589.5h0M574.7 594.5h0M579.3 599.0h0M588.0 586.2h0M585.9 582.8h0M568.9 597.5h0M568.2 591.5h0M576.3 592.1h0M566.6 604.3h0M578.5 586.3h0M576.7 597.5h0M581.1 596.0h0M571.3 598.3h0M579.5 600.5h0M571.7 595.2h0M578.3 598.5h0M577.6 592.5h0M587.5 595.7h0M584.6 605.9h0M563.1 598.5h0M573.3 600.1h0M573.4 592.8h0M574.8 591.8h0M567.8 589.4h0M585.0 586.8h0M578.4 603.8h0M590.5 582.8h0M573.1 589.4h0M565.8 607.9h0M587.9 591.9h0M580.8 587.8h0M576.6 592.2h0M577.3 590.2h0M587.4 588.5h0M590.4 595.6h0M584.9 596.4h0M573.4 592.8h0M565.1 596.8h0M574.6 589.4h0M578.1 596.1h0M576.4 595.9h0M577.0 585.7h0M568.9 613.8h0M568.9 610.0h0M578.8 597.2h0M579.2 593.2h0M577.0 600.4h0M577.9 588.6h0M575.6 608.0h0M562.6 602.1h0M570.3 588.8h0M587.8 590.4h0M573.4 593.3h0M586.1 580.2h0M579.6 596.3h0M587.2 577.4h0M581.4 597.6h0M590.4 584.1h0M577.3 587.2h0M583.0 579.8h0M576.3 595.6h0M574.9 599.6h0M578.1 598.2h0M567.1 603.2h0M575.1 593.4h0M575.4 594.0h0M580.1 596.8h0M585.6 588.2h0M567.4 597.6h0M574.9 595.3h0M571.1 601.4h0M579.2 583.8h0M581.3 598.8h0M579.0 588.2h0M581.9 595.7h0M576.6 595.6h0M564.5 609.0h0M586.5 596.4h0M572.6 593.7h0M569.8 599.0h0M572.2 601.9h0M567.0 598.0h0M571.2 596.9h0M579.6 592.5h0M573.5 596.7h0M563.3 601.1h0M574.1 590.0h0M585.0 591.1h0M583.8 603.4h0M575.6 591.2h0M577.9 600.5h0M577.7 589.0h0M573.5 601.3h0M574.6 600.3h0M576.6 589.6h0M579.1 596.4h0M579.1 590.8h0M571.0 609.2h0M575.5 578.7h0M573.8 602.5h0M563.8 600.1h0M567.6 606.1h0M581.4 584.7h0M579.4 597.4h0M575.8 590.8h0M580.4 587.4h0M577.3 593.1h0M570.5 596.4h0M573.0 600.3h0M581.3 592.8h0M574.3 595.9h0M570.7 597.3h0M572.5 596.1h0M569.6 593.4h0M575.7 590.8h0M583.0 586.4h0M579.6 584.1h0M572.1 597.5h0M564.8 615.9h0M569.3 600.0h0M570.0 603.9h0M586.3 588.1h0M586.8 584.4h0M571.1 601.9h0M569.2 608.0h0M571.7 596.9h0M584.3 587.6h0M576.2 596.0h0M586.2 591.4h0M575.8 588.4h0M574.9 602.8h0M568.3 591.7h0M576.0 613.5h0M569.7 594.6h0M582.6 587.4h0M583.8 601.9h0M580.5 595.0h0M573.7 588.5h0M582.0 593.3h0M580.6 587.8h0M574.8 592.6h0M581.9 588.5h0M587.1 594.1h0M580.8 598.9h0M569.9 600.6h0M575.2 592.3h0M586.3 587.1h0M571.8 594.4h0M579.0 593.6h0M586.7 581.0h0M567.6 598.7h0M568.5 607.6h0M586.1 596.3h0M572.8 604.0h0M581.9 583.0h0M565.5 605.1h0M589.6 576.8h0M580.4 593.9h0M583.4 588.8h0M563.3 605.1h0M579.4 595.7h0M582.7 599.9h0M575.7 592.8h0M575.2 604.4h0M582.0 591.6h0M579.3 588.6h0M589.0 591.4h0M590.7 587.3h0M590.5 587.2h0M565.3 603.5h0M564.1 601.9h0M582.7 589.5h0M582.4 581.8h0M586.4 587.4h0M587.8 590.6h0M576.9 598.2h0M575.3 595.3h0M575.3 595.3h0M573.3 590.8h0M576.7 599.2h0M577.7 601.0h0M571.6 606.2h0M590.8 585.4h0M590.0 588.2h0M579.6 603.3h0M580.0 587.0h0M558.7 605.6h0M586.7 595.1h0M565.5 598.2h0M573.8 603.7h0M579.3 581.0h0M585.2 586.3h0M571.2 605.5h0M572.8 594.5h0M571.5 589.4h0M569.6 596.0h0M580.4 588.6h0M585.9 584.1h0M575.0 592.7h0M570.4 595.6h0M584.1 584.0h0M580.7 592.0h0M580.6 581.7h0M584.0 596.5h0M580.8 600.0h0M579.2 597.1h0M584.8 601.0h0M576.9 585.2h0M583.3 586.6h0M587.7 587.4h0M578.7 582.5h0M571.5 607.2h0M578.1 597.3h0M578.3 587.0h0M583.4 589.6h0M575.1 600.5h0M573.9 592.0h0M580.2 595.7h0M586.4 595.3h0M580.8 585.4h0M567.3 599.5h0M571.3 605.9h0M588.4 584.6h0M578.1 586.4h0M580.5 591.4h0M579.7 591.4h0M568.8 598.8h0M578.1 593.9h0M574.6 601.2h0M574.9 602.7h0M584.8 597.1h0M583.2 591.0h0M587.1 589.8h0M573.7 592.7h0M567.0 596.4h0M569.6 599.2h0M583.5 593.2h0M572.9 588.8h0M580.5 595.7h0M579.7 594.3h0M582.4 597.9h0M567.6 604.5h0M572.4 598.6h0M567.8 596.6h0M550.2 591.0h0M560.8 613.4h0M562.3 615.4h0M581.4 597.2h0M589.2 598.5h0M552.4 623.8h0M582.7 589.1h0M575.5 590.6h0M569.1 612.0h0M584.2 599.2h0M569.9 601.4h0M567.4 588.0h0M581.2 576.4h0M545.6 593.3h0M581.3 583.5h0M568.6 612.5h0M564.6 595.2h0M572.8 591.6h0M555.9 621.3h0M567.8 598.0h0M570.8 595.6h0M582.9 608.5h0M575.5 593.0h0M581.2 582.7h0M540.1 621.4h0M574.9 601.5h0M552.9 610.0h0M567.0 598.6h0M566.2 595.0h0M561.1 597.9h0M589.0 599.8h0M585.4 601.2h0M563.7 591.7h0M583.3 593.6h0M583.4 587.8h0M568.8 616.1h0M557.2 608.9h0M588.6 597.6h0M571.0 614.3h0M584.9 597.8h0M559.8 611.8h0M569.4 614.7h0M573.5 581.8h0M567.5 611.1h0M580.3 590.9h0M572.6 600.8h0M575.2 576.0h0M582.5 587.0h0M569.6 590.4h0M572.5 608.3h0M567.7 604.9h0M547.9 616.7h0M576.1 602.7h0M582.9 585.9h0M568.1 601.8h0M568.8 588.2h0M584.1 598.7h0M581.4 587.7h0M587.6 585.3h0M555.5 610.7h0M587.9 578.9h0M558.3 606.9h0M550.7 614.7h0M539.0 611.6h0M584.2 589.4h0M547.1 585.3h0M555.7 579.3h0M572.6 582.9h0M577.6 585.8h0M559.7 613.8h0M547.4 590.1h0M562.1 618.8h0M559.1 596.4h0M570.3 604.4h0M560.8 586.1h0M581.4 585.1h0M558.7 610.8h0M583.2 595.7h0M579.4 607.1h0M553.5 612.5h0M580.5 605.5h0M533.2 635.4h0M549.3 612.8h0M568.5 603.1h0M586.5 590.1h0M568.4 594.7h0M572.4 580.6h0M545.8 605.4h0M556.6 623.6h0M576.1 619.0h0M569.4 608.0h0M568.3 608.3h0M568.7 615.8h0M553.1 603.8h0M574.8 611.8h0M581.9 597.8h0M588.8 588.6h0M581.3 590.7h0M549.3 619.0h0M579.7 592.5h0M585.3 599.4h0M558.3 603.9h0M544.8 608.8h0M570.7 592.5h0M555.1 611.2h0M585.0 591.9h0M572.1 613.2h0M577.2 589.8h0" stroke="#f01010" stroke-width="1.9" stroke-linecap="square" fill="none"/>
<path d="M588.6 583.9h0M582.0 588.1h0M593.2 580.8h0M583.3 584.2h0M584.7 582.5h0M585.9 582.9h0M587.6 581.7h0M585.9 582.2h0M585.2 587.3h0M587.7 582.9h0M583.2 581.8h0M600.2 568.6h0M602.5 570.2h0M586.0 584.5h0M585.2 586.0h0M589.2 579.3h0M588.9 580.8h0M587.4 588.3h0M590.6 579.0h0M592.8 578.6h0M588.8 581.7h0M587.0 588.5h0M580.9 590.8h0M581.9 581.8h0M597.5 577.0h0M587.4 581.1h0M588.1 579.1h0M598.5 579.1h0M592.0 582.5h0M582.2 586.3h0M589.4 587.0h0M580.7 586.5h0M583.9 587.9h0M590.6 574.1h0M584.5 586.5h0M590.9 581.2h0M582.9 588.8h0M583.9 595.9h0M586.8 587.6h0M581.3 593.1h0M587.6 576.7h0M584.0 586.4h0M585.4 572.8h0M588.4 587.3h0M584.2 582.4h0M585.3 584.5h0M588.5 578.4h0M581.4 588.6h0M591.9 579.9h0M589.3 584.5h0M580.9 587.0h0M589.9 590.6h0M590.1 576.2h0M591.6 583.7h0M598.3 578.3h0M595.0 582.3h0M589.1 584.1h0M589.0 582.3h0M585.2 587.4h0M586.6 589.4h0M583.8 589.0h0M584.9 585.7h0M597.8 579.9h0M587.7 583.1h0M589.8 583.1h0M586.6 583.1h0M581.6 585.3h0M585.6 588.9h0M584.9 592.2h0M588.5 591.9h0M599.4 565.8h0M586.1 587.0h0M586.5 585.8h0M585.6 579.2h0M587.4 586.5h0M595.5 575.0h0M589.9 581.6h0M580.5 588.5h0M582.3 597.1h0M584.1 589.7h0M583.7 585.6h0M583.2 594.6h0M583.9 581.5h0M597.4 577.0h0M594.5 579.1h0M580.8 583.6h0M583.7 577.4h0M580.9 593.1h0M588.2 589.9h0M590.9 586.9h0M584.9 585.5h0M586.6 581.1h0M583.2 587.5h0M584.9 583.9h0M581.9 588.0h0M584.5 590.4h0M583.7 579.8h0M586.3 587.8h0M581.2 585.1h0M596.8 566.2h0M580.7 586.2h0M585.4 583.7h0M590.2 580.6h0M593.8 583.0h0M591.9 584.2h0M588.1 577.9h0M581.9 590.6h0M583.9 587.1h0M586.6 575.1h0M585.9 585.7h0M580.7 594.8h0M591.6 577.3h0M582.0 592.2h0M586.5 583.5h0" stroke="#bebebe" stroke-width="1.4" stroke-linecap="square" fill="none"/>
<path d="M594.6 578.1h0M593.3 575.5h0M592.0 573.9h0M590.0 578.9h0M594.8 577.6h0M591.2 579.5h0M595.8 578.4h0M593.9 571.5h0M588.2 582.7h0M592.6 576.1h0M588.6 573.9h0M596.6 575.5h0M596.8 578.0h0M596.1 576.5h0M596.3 574.1h0M594.1 579.9h0M590.5 577.0h0M593.8 574.3h0M591.3 572.9h0M597.2 568.8h0M587.5 582.4h0M585.6 579.0h0M592.7 576.8h0M588.3 580.2h0M598.2 577.0h0M593.5 573.0h0M591.7 573.5h0M600.1 575.9h0M593.8 581.0h0M595.3 573.0h0M595.5 580.5h0M590.5 582.4h0M593.7 570.4h0M594.3 576.2h0M594.6 577.3h0M588.3 577.1h0M597.4 576.6h0M592.9 574.7h0M599.1 573.8h0M592.8 577.5h0M595.8 575.6h0M593.7 579.5h0M597.0 572.9h0M594.9 572.9h0M600.0 572.6h0M592.0 575.9h0M592.9 573.9h0M591.5 579.7h0M595.9 569.8h0M597.7 575.6h0M595.1 573.9h0M597.1 573.4h0M596.2 576.0h0M586.4 578.5h0M596.1 570.4h0M595.9 577.0h0M594.3 577.2h0M596.5 572.9h0M594.9 575.8h0M589.4 580.5h0M594.1 579.7h0M595.6 574.3h0M596.5 575.3h0M596.3 576.5h0M588.8 578.7h0M594.0 579.8h0M593.2 577.4h0M590.9 573.4h0M594.4 577.3h0M594.8 580.9h0M590.9 577.9h0M599.8 573.7h0M597.1 574.3h0M592.9 573.9h0M594.2 578.0h0M595.1 570.9h0M594.0 573.2h0M591.6 577.9h0M591.9 578.7h0M597.2 574.6h0M594.1 572.2h0M600.0 576.8h0M589.4 576.4h0M597.6 573.0h0M596.1 571.9h0M592.2 574.9h0M591.3 580.6h0M588.0 584.1h0M595.4 575.6h0M592.0 574.7h0M594.0 578.4h0M596.7 573.7h0M592.7 575.5h0M592.6 577.0h0M593.5 579.9h0M591.3 574.5h0M592.6 575.9h0M592.6 576.0h0M590.9 573.6h0M592.1 575.1h0M593.7 575.8h0M591.4 576.8h0M591.7 575.8h0M598.0 577.7h0M591.4 577.5h0M591.6 575.5h0M597.5 574.0h0M595.1 577.1h0M592.8 574.7h0M592.8 575.6h0M590.1 577.3h0M595.6 577.9h0M592.5 575.2h0M593.8 577.0h0M594.7 575.2h0M591.6 574.2h0M593.1 577.5h0M592.4 578.4h0M592.7 574.9h0M591.7 578.2h0M593.7 580.4h0M591.0 578.3h0M594.1 580.9h0M590.9 578.3h0M594.1 574.3h0M588.4 578.8h0M592.6 584.2h0M596.4 575.7h0M595.4 578.0h0M591.7 575.5h0M592.7 575.2h0M589.0 575.4h0M598.5 573.5h0M590.4 583.1h0M589.8 578.8h0M592.5 580.6h0M588.3 577.6h0M591.0 574.1h0M592.3 577.1h0M592.2 578.5h0M589.5 584.3h0M597.5 578.9h0M594.4 576.4h0M599.1 575.9h0M594.4 575.9h0M595.0 578.9h0M594.5 573.3h0M595.8 581.6h0M589.7 575.2h0M591.8 579.6h0M598.0 577.3h0M592.1 579.5h0M594.1 577.9h0M596.3 574.9h0M589.8 581.1h0M598.3 574.6h0M592.4 576.8h0M592.4 575.1h0M597.0 576.1h0M598.5 575.6h0M595.3 575.3h0M590.4 576.4h0M596.4 584.9h0M594.3 570.2h0M600.0 573.6h0M591.7 579.1h0M592.1 576.7h0M592.7 575.7h0M597.0 574.0h0M593.3 578.0h0M591.8 579.7h0M591.1 574.4h0M586.2 581.2h0M592.8 579.8h0M593.4 577.4h0M598.7 573.2h0M594.3 574.8h0M599.3 573.4h0M595.5 576.3h0M593.1 581.8h0M593.7 574.3h0M594.1 571.7h0M592.8 579.3h0M593.0 580.5h0M589.7 581.3h0M593.3 577.7h0M601.9 573.8h0M594.2 577.5h0M594.9 577.6h0M591.6 574.6h0M593.2 574.0h0M592.7 579.9h0M592.6 581.4h0M596.3 575.9h0M594.4 578.6h0M594.8 577.9h0M593.0 578.4h0M594.3 578.5h0M593.5 576.9h0M591.0 576.0h0M594.3 582.3h0M596.0 576.7h0M593.2 579.6h0M593.2 579.6h0M594.5 575.8h0M593.9 572.5h0M587.8 580.5h0M590.8 581.4h0M593.2 578.3h0M596.2 576.2h0M595.7 575.5h0M592.1 575.2h0M591.4 573.5h0M593.1 575.0h0M589.6 574.6h0M594.8 576.6h0M596.3 576.9h0M589.0 575.6h0M597.1 578.6h0M593.9 573.9h0" stroke="#000" stroke-width="1.7" stroke-linecap="square" fill="none"/>
<ellipse cx="593.6" cy="576.8" rx="5.5" ry="5" fill="#000" transform="rotate(-35 593.6 576.8)"/>
<line x1="523.98" y1="629.68" x2="611.92" y2="563.06" stroke="#000" stroke-width="1.4"/>
<rect x="490.8" y="526.8" width="152.49999999999994" height="153.5" fill="none" stroke="#000" stroke-width="1.3"/>
<line x1="488.3" y1="526.63" x2="490.8" y2="526.63" stroke="#000" stroke-width="1"/>
<text x="484.30" y="530.63" font-size="11.8" text-anchor="end" fill="#000" >5</text>
<line x1="488.3" y1="577.80" x2="490.8" y2="577.80" stroke="#000" stroke-width="1"/>
<text x="484.30" y="581.80" font-size="11.8" text-anchor="end" fill="#000" >0</text>
<line x1="488.3" y1="628.97" x2="490.8" y2="628.97" stroke="#000" stroke-width="1"/>
<text x="484.30" y="632.97" font-size="11.8" text-anchor="end" fill="#000" >-5</text>
<line x1="488.3" y1="680.13" x2="490.8" y2="680.13" stroke="#000" stroke-width="1"/>
<text x="484.30" y="684.13" font-size="11.8" text-anchor="end" fill="#000" >-10</text>
<line x1="490.93" y1="680.3" x2="490.93" y2="682.8" stroke="#000" stroke-width="1"/>
<text x="491.93" y="695.60" font-size="11.8" text-anchor="middle" fill="#000" >-10</text>
<line x1="541.77" y1="680.3" x2="541.77" y2="682.8" stroke="#000" stroke-width="1"/>
<text x="542.77" y="695.60" font-size="11.8" text-anchor="middle" fill="#000" >-5</text>
<line x1="592.60" y1="680.3" x2="592.60" y2="682.8" stroke="#000" stroke-width="1"/>
<text x="592.60" y="695.60" font-size="11.8" text-anchor="middle" fill="#000" >0</text>
<line x1="643.43" y1="680.3" x2="643.43" y2="682.8" stroke="#000" stroke-width="1"/>
<text x="643.43" y="695.60" font-size="11.8" text-anchor="middle" fill="#000" >5</text>
<text x="572.00" y="710.70" font-size="11.8" text-anchor="middle" fill="#000" >log<tspan font-size="11" dy="4.2">2</tspan><tspan dy="-4.2"> FC (Brunello)</tspan></text>
<text x="0" y="0" font-size="11.8" text-anchor="middle" transform="translate(464.1 599.6) rotate(-90)">log<tspan font-size="11" dy="4.2">2</tspan><tspan dy="-4.2"> FC (Whitehead)</tspan></text>
<text x="506.20" y="546.50" font-size="11.8" text-anchor="start" fill="#000" ><tspan font-style="italic">r</tspan><tspan font-size="8.6" dy="-5">2</tspan><tspan dy="5"> = 0.64</tspan></text>
<text x="0" y="0" font-size="21.3" font-weight="bold" transform="translate(33.0 761.9) scale(1.12 1)">e</text>
<path d="M74.5,770.7 H225.6 V920.6 H74.5 Z" fill="none" stroke="#000" stroke-width="1.3"/>
<line x1="71.5" y1="920.60" x2="74.5" y2="920.60" stroke="#000" stroke-width="1"/>
<text x="64.80" y="924.60" font-size="11.8" text-anchor="end" fill="#000" >0</text>
<line x1="71.5" y1="899.19" x2="74.5" y2="899.19" stroke="#000" stroke-width="1"/>
<text x="64.80" y="903.19" font-size="11.8" text-anchor="end" fill="#000" >1</text>
<line x1="71.5" y1="877.78" x2="74.5" y2="877.78" stroke="#000" stroke-width="1"/>
<text x="64.80" y="881.78" font-size="11.8" text-anchor="end" fill="#000" >2</text>
<line x1="71.5" y1="856.37" x2="74.5" y2="856.37" stroke="#000" stroke-width="1"/>
<text x="64.80" y="860.37" font-size="11.8" text-anchor="end" fill="#000" >3</text>
<line x1="71.5" y1="834.96" x2="74.5" y2="834.96" stroke="#000" stroke-width="1"/>
<text x="64.80" y="838.96" font-size="11.8" text-anchor="end" fill="#000" >4</text>
<line x1="71.5" y1="813.55" x2="74.5" y2="813.55" stroke="#000" stroke-width="1"/>
<text x="64.80" y="817.55" font-size="11.8" text-anchor="end" fill="#000" >5</text>
<line x1="71.5" y1="792.14" x2="74.5" y2="792.14" stroke="#000" stroke-width="1"/>
<text x="64.80" y="796.14" font-size="11.8" text-anchor="end" fill="#000" >6</text>
<line x1="71.5" y1="770.73" x2="74.5" y2="770.73" stroke="#000" stroke-width="1"/>
<text x="64.80" y="774.73" font-size="11.8" text-anchor="end" fill="#000" >7</text>
<line x1="74.50" y1="920.6" x2="74.50" y2="923.4" stroke="#000" stroke-width="1"/>
<text x="74.50" y="937.20" font-size="11.8" text-anchor="middle" fill="#000" >0</text>
<line x1="112.25" y1="920.6" x2="112.25" y2="923.4" stroke="#000" stroke-width="1"/>
<text x="112.25" y="937.20" font-size="11.8" text-anchor="middle" fill="#000" >1000</text>
<line x1="150.00" y1="920.6" x2="150.00" y2="923.4" stroke="#000" stroke-width="1"/>
<text x="150.00" y="937.20" font-size="11.8" text-anchor="middle" fill="#000" >2000</text>
<line x1="187.75" y1="920.6" x2="187.75" y2="923.4" stroke="#000" stroke-width="1"/>
<text x="187.75" y="937.20" font-size="11.8" text-anchor="middle" fill="#000" >3000</text>
<line x1="225.50" y1="920.6" x2="225.50" y2="923.4" stroke="#000" stroke-width="1"/>
<text x="225.50" y="937.20" font-size="11.8" text-anchor="middle" fill="#000" >4000</text>
<text x="149.80" y="952.50" font-size="11.8" text-anchor="middle" fill="#000" >Genes ranked by significance</text>
<text x="0" y="0" font-size="11.8" text-anchor="middle" transform="translate(46.0 845.2) rotate(-90)">-log<tspan font-size="11" dy="4.2">10</tspan><tspan dy="-4.2"> P</tspan></text>
<path d="M74.7,786.6 H85.9 V796.3 L87.3,797.6  C87.78,800.42 89.48,810.45 90.20,814.50 C90.92,818.55 90.47,818.08 91.60,821.90 C92.73,825.72 95.22,831.90 97.00,837.40 C98.78,842.90 100.73,850.63 102.30,854.90 C103.87,859.17 104.93,859.40 106.40,863.00 C107.87,866.60 110.08,873.90 111.10,876.50 C112.12,879.10 111.13,876.63 112.50,878.60 C113.87,880.57 116.57,885.40 119.30,888.30 C122.03,891.20 124.08,893.27 128.90,896.00 C133.72,898.73 141.78,902.45 148.20,904.70 C154.62,906.95 159.38,908.05 167.40,909.50 C175.42,910.95 186.67,912.28 196.30,913.40 C205.93,914.52 220.38,915.73 225.20,916.20" fill="none" stroke="#22b022" stroke-width="1.3"/>
<path d="M74.70,786.00 C74.82,789.17 74.62,797.57 75.40,805.00 C76.18,812.43 77.60,823.18 79.40,830.60 C81.20,838.02 83.95,843.88 86.20,849.50 C88.45,855.12 90.88,860.15 92.90,864.30 C94.92,868.45 97.12,872.28 98.30,874.40 C99.48,876.52 98.12,874.20 100.00,877.00 C101.88,879.80 106.38,887.38 109.60,891.20 C112.82,895.02 114.48,897.33 119.30,899.90 C124.12,902.47 132.08,904.83 138.50,906.60 C144.92,908.37 148.80,909.37 157.80,910.50 C166.80,911.63 181.27,912.70 192.50,913.40 C203.73,914.10 219.75,914.48 225.20,914.70" fill="none" stroke="#0a0aff" stroke-width="1.3"/>
<path d="M75.40,787.50 C75.62,789.30 76.13,793.58 76.70,798.30 C77.27,803.02 77.78,810.42 78.80,815.80 C79.82,821.18 81.35,826.10 82.80,830.60 C84.25,835.10 85.58,838.07 87.50,842.80 C89.42,847.53 92.05,853.83 94.30,859.00 C96.55,864.17 99.57,871.00 101.00,873.80 C102.43,876.60 101.47,873.38 102.90,875.80 C104.33,878.22 106.87,884.62 109.60,888.30 C112.33,891.98 115.12,895.17 119.30,897.90 C123.48,900.63 128.28,902.77 134.70,904.70 C141.12,906.63 148.17,908.05 157.80,909.50 C167.43,910.95 181.27,912.43 192.50,913.40 C203.73,914.37 219.75,914.98 225.20,915.30" fill="none" stroke="#ff1a1a" stroke-width="1.3"/>
<circle cx="112.5" cy="878.6" r="2.6" fill="#22b022"/>
<circle cx="102.9" cy="875.8" r="2.6" fill="#ff1a1a"/>
<circle cx="98.3" cy="874.4" r="2.6" fill="#0a0aff"/>
<line x1="143.7" y1="785.40" x2="153.9" y2="785.40" stroke="#ff1a1a" stroke-width="1.5"/>
<text x="159.30" y="788.30" font-size="11.8" text-anchor="start" fill="#000" >Human v1</text>
<line x1="143.7" y1="799.40" x2="153.9" y2="799.40" stroke="#0a0aff" stroke-width="1.5"/>
<text x="159.30" y="802.00" font-size="11.8" text-anchor="start" fill="#000" >Brunello</text>
<line x1="143.7" y1="813.40" x2="153.9" y2="813.40" stroke="#22b022" stroke-width="1.5"/>
<text x="159.30" y="815.70" font-size="11.8" text-anchor="start" fill="#000" >Whitehead</text>
<text x="0" y="0" font-size="21.3" font-weight="bold" transform="translate(264.3 761.0) scale(1.12 1)">f</text>
<line x1="330.9" y1="768.50" x2="330.9" y2="918.9" stroke="#000" stroke-width="1.3"/>
<line x1="330.3" y1="918.3" x2="474.0" y2="918.3" stroke="#000" stroke-width="1.3"/>
<line x1="327.0" y1="918.30" x2="330.9" y2="918.30" stroke="#000" stroke-width="1"/>
<text x="323.10" y="922.90" font-size="11.8" text-anchor="end" fill="#000" >0</text>
<line x1="327.0" y1="896.99" x2="330.9" y2="896.99" stroke="#000" stroke-width="1"/>
<text x="323.10" y="901.59" font-size="11.8" text-anchor="end" fill="#000" >200</text>
<line x1="327.0" y1="875.67" x2="330.9" y2="875.67" stroke="#000" stroke-width="1"/>
<text x="323.10" y="880.27" font-size="11.8" text-anchor="end" fill="#000" >400</text>
<line x1="327.0" y1="854.36" x2="330.9" y2="854.36" stroke="#000" stroke-width="1"/>
<text x="323.10" y="858.96" font-size="11.8" text-anchor="end" fill="#000" >600</text>
<line x1="327.0" y1="833.04" x2="330.9" y2="833.04" stroke="#000" stroke-width="1"/>
<text x="323.10" y="837.64" font-size="11.8" text-anchor="end" fill="#000" >800</text>
<line x1="327.0" y1="811.73" x2="330.9" y2="811.73" stroke="#000" stroke-width="1"/>
<text x="323.10" y="816.33" font-size="11.8" text-anchor="end" fill="#000" >1000</text>
<line x1="327.0" y1="790.42" x2="330.9" y2="790.42" stroke="#000" stroke-width="1"/>
<text x="323.10" y="795.02" font-size="11.8" text-anchor="end" fill="#000" >1200</text>
<line x1="327.0" y1="769.10" x2="330.9" y2="769.10" stroke="#000" stroke-width="1"/>
<text x="323.10" y="773.70" font-size="11.8" text-anchor="end" fill="#000" >1400</text>
<line x1="330.90" y1="918.3" x2="330.90" y2="921.3" stroke="#000" stroke-width="1"/>
<line x1="359.52" y1="918.3" x2="359.52" y2="921.3" stroke="#000" stroke-width="1"/>
<line x1="388.14" y1="918.3" x2="388.14" y2="921.3" stroke="#000" stroke-width="1"/>
<line x1="416.76" y1="918.3" x2="416.76" y2="921.3" stroke="#000" stroke-width="1"/>
<line x1="445.38" y1="918.3" x2="445.38" y2="921.3" stroke="#000" stroke-width="1"/>
<line x1="474.00" y1="918.3" x2="474.00" y2="921.3" stroke="#000" stroke-width="1"/>
<rect x="339.50" y="873.90" width="11.4" height="44.40" fill="#b0b0fc"/>
<rect x="339.50" y="856.70" width="11.4" height="17.20" fill="#b1e9b1"/>
<rect x="339.50" y="850.50" width="11.4" height="6.20" fill="#ffe4a6"/>
<rect x="339.50" y="845.30" width="11.4" height="5.20" fill="#ffb0b0"/>
<rect x="339.50" y="839.10" width="11.4" height="6.20" fill="#b1e9b1"/>
<rect x="339.50" y="833.40" width="11.4" height="5.70" fill="#ffe4a6"/>
<rect x="339.50" y="823.70" width="11.4" height="9.70" fill="#ffb0b0"/>
<rect x="368.10" y="889.00" width="11.4" height="29.30" fill="#b0b0fc"/>
<rect x="368.10" y="865.00" width="11.4" height="24.00" fill="#b1e9b1"/>
<rect x="368.10" y="858.50" width="11.4" height="6.50" fill="#ffe4a6"/>
<rect x="368.10" y="853.30" width="11.4" height="5.20" fill="#ffb0b0"/>
<rect x="368.10" y="848.80" width="11.4" height="4.50" fill="#b1e9b1"/>
<rect x="368.10" y="844.40" width="11.4" height="4.40" fill="#ffe4a6"/>
<rect x="368.10" y="834.20" width="11.4" height="10.20" fill="#ffb0b0"/>
<rect x="396.70" y="852.80" width="11.4" height="65.50" fill="#b0b0fc"/>
<rect x="396.70" y="850.80" width="11.4" height="2.00" fill="#b1e9b1"/>
<rect x="396.70" y="836.80" width="11.4" height="14.00" fill="#b0b0fc"/>
<rect x="396.70" y="819.40" width="11.4" height="17.40" fill="#b1e9b1"/>
<rect x="396.70" y="810.40" width="11.4" height="9.00" fill="#ffe4a6"/>
<rect x="396.70" y="796.40" width="11.4" height="14.00" fill="#ffb0b0"/>
<rect x="425.30" y="895.00" width="11.4" height="23.30" fill="#b0b0fc"/>
<rect x="425.30" y="868.60" width="11.4" height="26.40" fill="#b1e9b1"/>
<rect x="425.30" y="858.90" width="11.4" height="9.70" fill="#ffe4a6"/>
<rect x="425.30" y="852.30" width="11.4" height="6.60" fill="#ffb0b0"/>
<rect x="425.30" y="848.10" width="11.4" height="4.20" fill="#b1e9b1"/>
<rect x="425.30" y="842.70" width="11.4" height="5.40" fill="#ffe4a6"/>
<rect x="425.30" y="829.30" width="11.4" height="13.40" fill="#ffb0b0"/>
<rect x="453.90" y="890.90" width="11.4" height="27.40" fill="#b0b0fc"/>
<rect x="453.90" y="865.80" width="11.4" height="25.10" fill="#b1e9b1"/>
<rect x="453.90" y="857.00" width="11.4" height="8.80" fill="#ffe4a6"/>
<rect x="453.90" y="851.10" width="11.4" height="5.90" fill="#ffb0b0"/>
<rect x="453.90" y="846.90" width="11.4" height="4.20" fill="#b1e9b1"/>
<rect x="453.90" y="838.80" width="11.4" height="8.10" fill="#ffe4a6"/>
<rect x="453.90" y="825.50" width="11.4" height="13.30" fill="#ffb0b0"/>
<polyline points="339.5,823.7 351.0,823.7 368.1,834.2 379.5,834.2 396.7,796.4 408.1,796.4 425.3,829.3 436.7,829.3 453.9,825.5 465.3,825.5 530.0,825.5" fill="none" stroke="#444" stroke-width="0.95" stroke-dasharray="2.1,1.9"/>
<polyline points="339.5,846.3 351.0,846.3 368.1,853.3 379.5,853.3 396.7,850.5 408.1,850.5 425.3,852.3 436.7,852.3 453.9,851.1 465.3,851.1 530.0,851.3" fill="none" stroke="#444" stroke-width="0.95" stroke-dasharray="2.1,1.9"/>
<text x="498.80" y="842.70" font-size="11.8" text-anchor="middle" fill="#000" >FC&gt;0.5</text>
<text x="498.50" y="887.60" font-size="11.8" text-anchor="middle" fill="#000" >FC≤0.5</text>
<text x="0" y="0" font-size="11.8" transform="translate(275.0 897.2) rotate(-90)">No. genes depleted</text>
<text x="0" y="0" font-size="11.8" transform="translate(289.4 897.2) rotate(-90)">at the indicated FDR</text>
<text x="0" y="0" font-size="11.8" text-anchor="end" transform="translate(353.80 931.2) rotate(-30)">Human v1</text>
<text x="0" y="0" font-size="11.8" text-anchor="end" transform="translate(382.42 931.2) rotate(-30)">Brunello</text>
<text x="0" y="0" font-size="11.8" text-anchor="end" transform="translate(411.04 931.2) rotate(-30)">Whitehead</text>
<text x="0" y="0" font-size="11.8" text-anchor="end" transform="translate(439.66 931.2) rotate(-30)">Whitehead_A</text>
<text x="0" y="0" font-size="11.8" text-anchor="end" transform="translate(468.28 931.2) rotate(-30)">Whitehead_B</text>
<rect x="348.3" y="750.3" width="6.4" height="6.2" fill="#ffb0b0"/>
<text x="359.30" y="756.00" font-size="11.8" text-anchor="start" fill="#000" >FDR 10-20%</text>
<rect x="348.3" y="764.5" width="6.4" height="6.2" fill="#ffe4a6"/>
<text x="359.30" y="770.20" font-size="11.8" text-anchor="start" fill="#000" >FDR 5-10%</text>
<rect x="436.5" y="750.3" width="6.4" height="6.2" fill="#b1e9b1"/>
<text x="447.50" y="756.00" font-size="11.8" text-anchor="start" fill="#000" >FDR 1-5%</text>
<rect x="436.5" y="764.5" width="6.4" height="6.2" fill="#b0b0fc"/>
<text x="447.50" y="770.20" font-size="11.8" text-anchor="start" fill="#000" >FDR ≤1%</text>
</svg></body></html>
